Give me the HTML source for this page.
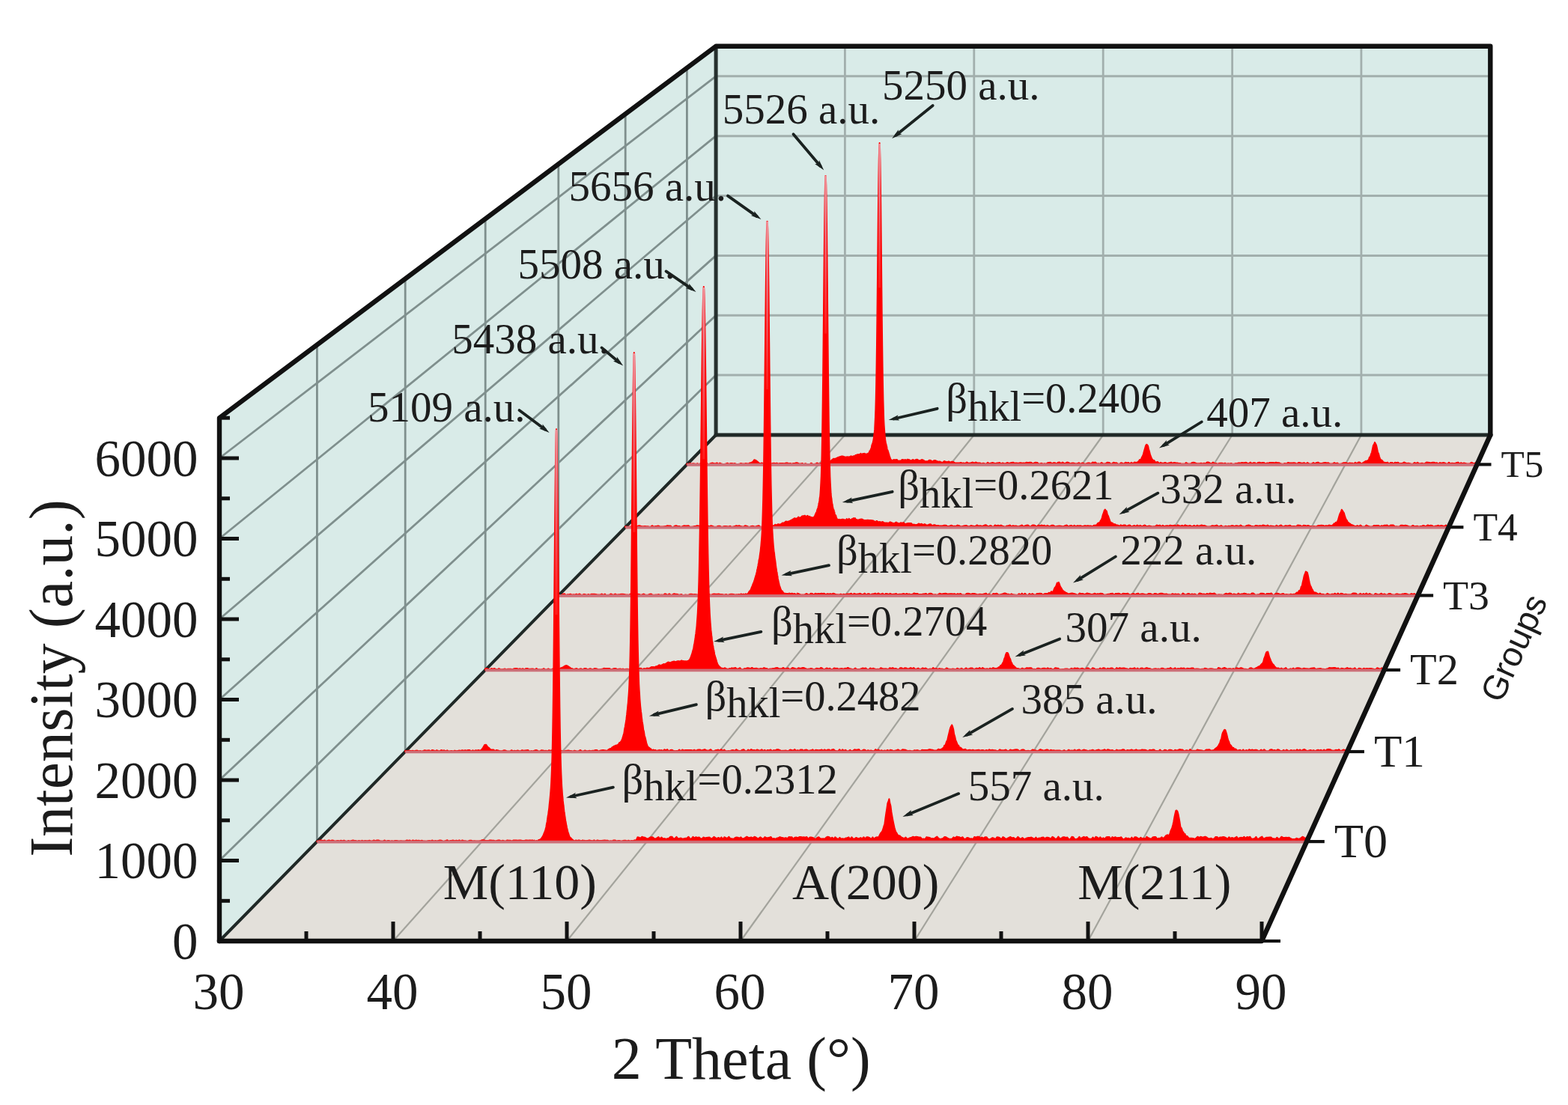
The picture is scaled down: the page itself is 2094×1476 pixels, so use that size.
<!DOCTYPE html>
<html><head><meta charset="utf-8"><title>XRD 3D</title>
<style>html,body{margin:0;padding:0;background:#fff;}svg{display:block;}</style>
</head><body>
<svg width="2094" height="1476" viewBox="0 0 2094 1476">
<rect width="2094" height="1476" fill="#fff"/>
<polygon points="293,558.2 956.1,61.8 956.1,581 293,1257" fill="#d9ebe8"/>
<polygon points="956.1,61.8 1990.3,61.8 1990.3,581 956.1,581" fill="#d9ebe8"/>
<polygon points="293,1257 956.1,581 1990.3,581 1685,1257" fill="#e3e0da"/>
<g stroke="#a2afad" stroke-width="2" fill="none">
<line x1="1128.4" y1="581" x2="1128.4" y2="61.8" stroke="#a2afad" stroke-width="2.8"/>
<line x1="525" y1="1257" x2="1128.4" y2="581" stroke="#a3a39c" stroke-width="2.2"/>
<line x1="1300.8" y1="581" x2="1300.8" y2="61.8" stroke="#a2afad" stroke-width="2.8"/>
<line x1="757" y1="1257" x2="1300.8" y2="581" stroke="#a3a39c" stroke-width="2.2"/>
<line x1="1473.2" y1="581" x2="1473.2" y2="61.8" stroke="#a2afad" stroke-width="2.8"/>
<line x1="989" y1="1257" x2="1473.2" y2="581" stroke="#a3a39c" stroke-width="2.2"/>
<line x1="1645.6" y1="581" x2="1645.6" y2="61.8" stroke="#a2afad" stroke-width="2.8"/>
<line x1="1221" y1="1257" x2="1645.6" y2="581" stroke="#a3a39c" stroke-width="2.2"/>
<line x1="1817.9" y1="581" x2="1817.9" y2="61.8" stroke="#a2afad" stroke-width="2.8"/>
<line x1="1453" y1="1257" x2="1817.9" y2="581" stroke="#a3a39c" stroke-width="2.2"/>
<line x1="956.1" y1="501.1" x2="1990.3" y2="501.1" stroke="#a2afad" stroke-width="3"/>
<line x1="293" y1="1149.5" x2="956.1" y2="501.1" stroke="#7f8f8d" stroke-width="2.8"/>
<line x1="956.1" y1="421.3" x2="1990.3" y2="421.3" stroke="#a2afad" stroke-width="3"/>
<line x1="293" y1="1042" x2="956.1" y2="421.3" stroke="#7f8f8d" stroke-width="2.8"/>
<line x1="956.1" y1="341.4" x2="1990.3" y2="341.4" stroke="#a2afad" stroke-width="3"/>
<line x1="293" y1="934.5" x2="956.1" y2="341.4" stroke="#7f8f8d" stroke-width="2.8"/>
<line x1="956.1" y1="261.5" x2="1990.3" y2="261.5" stroke="#a2afad" stroke-width="3"/>
<line x1="293" y1="827" x2="956.1" y2="261.5" stroke="#7f8f8d" stroke-width="2.8"/>
<line x1="956.1" y1="181.7" x2="1990.3" y2="181.7" stroke="#a2afad" stroke-width="3"/>
<line x1="293" y1="719.5" x2="956.1" y2="181.7" stroke="#7f8f8d" stroke-width="2.8"/>
<line x1="956.1" y1="101.8" x2="1990.3" y2="101.8" stroke="#a2afad" stroke-width="3"/>
<line x1="293" y1="612" x2="956.1" y2="101.8" stroke="#7f8f8d" stroke-width="2.8"/>
<line x1="423.4" y1="1124.1" x2="423.4" y2="460.7" stroke="#7f8f8d" stroke-width="2.8"/>
<line x1="541.2" y1="1004" x2="541.2" y2="372.5" stroke="#7f8f8d" stroke-width="2.8"/>
<line x1="648.2" y1="894.9" x2="648.2" y2="292.3" stroke="#7f8f8d" stroke-width="2.8"/>
<line x1="745.8" y1="795.4" x2="745.8" y2="219.3" stroke="#7f8f8d" stroke-width="2.8"/>
<line x1="835.2" y1="704.2" x2="835.2" y2="152.3" stroke="#7f8f8d" stroke-width="2.8"/>
<line x1="917.4" y1="620.4" x2="917.4" y2="90.8" stroke="#7f8f8d" stroke-width="2.8"/>
</g>
<g stroke-linecap="round" stroke-linejoin="round" fill="none">
<line x1="956.1" y1="61.8" x2="956.1" y2="581" stroke="#26302e" stroke-width="5"/>
<line x1="956.1" y1="581" x2="1990.3" y2="581" stroke="#1f2826" stroke-width="5"/>
<line x1="293" y1="1257" x2="956.1" y2="581" stroke="#1f2826" stroke-width="4"/>
</g>
<path d="M917.4,620.4 L917.4,619.5 919.4,619.9 921.4,619 923.4,620 925.4,619.2 927.4,619.5 929.4,620 931.4,619.2 933.4,620.1 935.4,619.3 937.4,620 939.4,620 941.4,619.4 943.4,618.6 945.4,619.9 947.4,619.7 949.4,619 951.4,618.4 953.4,619.1 955.4,619.4 957.4,618.4 959.4,620 961.4,618.6 963.4,619.6 965.4,619.9 967.4,619.9 969.4,619.6 971.4,618.7 973.4,619.8 975.4,619.1 977.4,619 979.4,619.5 981.4,619.1 983.4,620 985.4,620 987.4,619.8 989.4,618.9 991.4,619.4 993.4,619.6 995.4,619.1 997.4,619.3 999.4,619.6 1001.4,618.5 1003.4,617.9 1005.4,616.8 1007.4,614.2 1009.4,614.9 1011.4,616.6 1013.4,618.3 1015.4,619.5 1017.4,618.4 1019.4,619.9 1021.4,619.4 1023.4,618.8 1025.4,619.9 1027.4,619.2 1029.4,620.1 1031.4,618.9 1033.4,618.8 1035.4,619.1 1037.4,618.6 1039.4,619.6 1041.4,618.9 1043.4,619.1 1045.4,619.1 1047.4,619.3 1049.4,618.6 1051.4,618.4 1053.4,619.3 1055.4,618.9 1057.4,620 1059.4,618.9 1061.4,619 1063.4,618.3 1065.4,618.6 1067.4,619.6 1069.4,619.4 1071.4,618.9 1073.4,620.1 1075.4,619.3 1077.4,619.8 1079.4,619.9 1081.4,620 1083.4,618.7 1085.4,619.9 1087.4,619.7 1089.4,619.4 1091.4,618.5 1093.4,619.9 1095.4,619.1 1097.4,618.8 1099.4,618.1 1101.4,617.9 1103.4,617.4 1105.4,617.9 1107.4,616.9 1109.4,616 1111.4,614 1113.4,612.7 1115.4,612.9 1117.4,611.8 1119.4,610.9 1121.4,610.3 1123.4,609.6 1125.4,609.4 1127.4,610.1 1129.4,610.8 1131.4,610.2 1133.4,610.5 1135.4,610.1 1136.4,609.3 1137.4,609.7 1138.4,609.9 1139.4,609.5 1140.4,609.1 1141.4,610 1142.4,608.1 1143.4,608 1144.4,607.4 1145.4,607.1 1146.4,607.5 1147.4,607 1148.4,607.2 1149.4,605.9 1150.4,606.7 1151.4,606.5 1152.4,606.1 1153.4,606.1 1154.4,605.8 1155.4,606.4 1156.4,606.6 1157.4,606.4 1158.4,606.4 1159.4,605.6 1160.4,605.5 1161.4,602.5 1161.8,602.3 1162.2,602.3 1162.6,601.2 1163,600 1163.4,598.9 1163.8,598.2 1164.2,595.6 1164.6,594 1165,593.6 1165.4,592 1165.8,591.1 1166.2,589.3 1166.6,586.8 1167,584.5 1167.4,580.5 1167.8,578 1168.2,573.4 1168.6,565.3 1169,557.4 1169.4,546.6 1169.8,532.1 1170.2,512.9 1170.6,489 1171,460.2 1171.4,426.8 1171.8,389.6 1172.2,350 1172.6,310.1 1173,272.2 1173.4,239 1173.8,213.1 1174.2,196.6 1174.6,191 1175,196.8 1175.4,213.3 1175.8,239.3 1176.2,272.6 1176.6,310.7 1177,350.8 1177.4,390.5 1177.8,427.9 1178.2,461.5 1178.6,490.5 1179,514.6 1179.4,534 1179.8,547.4 1180.2,560.3 1180.6,568 1181,573.6 1181.4,578.9 1181.8,583.3 1182.2,587.4 1182.6,589.8 1183,592.5 1183.4,593.2 1183.8,595.6 1184.2,596.7 1184.6,599.4 1185,601.2 1185.4,601.3 1185.8,602.2 1186.2,603.9 1186.6,605.2 1187,606.3 1187.4,607.6 1187.8,609.8 1188.2,610.1 1188.6,611.3 1189,612.8 1190,614.3 1191,614.7 1192,615.2 1193,614.5 1194,614 1195,615.2 1196,614.1 1197,614 1198,614.1 1199,615.4 1200,615.7 1201,615.6 1202,615.6 1203,615.6 1204,614.6 1205,613.9 1206,614 1207,614.8 1208,614.4 1209,614 1210,615.7 1211,614.3 1212,613.7 1213,614 1214,614.1 1215,614.7 1217,615.4 1219,614 1221,615.1 1223,614.1 1225,613.8 1227,615.1 1229,615.2 1231,614 1233,614.7 1235,616 1237,616.3 1239,616.3 1241,614.7 1243,615.1 1245,616.7 1247,615.3 1249,615.1 1251,616 1253,616.8 1255,616.5 1257,617.6 1259,618 1261,615.9 1263,616.8 1265,617.2 1267,616.4 1269,617.6 1271,616.7 1273,616.9 1275,618.4 1277,618.4 1279,618.4 1281,618.6 1283,617.9 1285,618.7 1287,618.4 1289,619.1 1291,617.4 1293,618.7 1295,618.5 1297,618.2 1299,617.5 1301,618.7 1303,617.5 1305,618.5 1307,618.5 1309,618.5 1311,619.7 1313,618.7 1315,619.3 1317,619.8 1319,617.9 1321,619.4 1323,618.7 1325,618.1 1327,618.5 1329,619.1 1331,618.6 1333,618.5 1335,618 1337,619.6 1339,618.5 1341,619.2 1343,619.2 1345,618 1347,618.7 1349,618.5 1351,618.1 1353,617.7 1355,618.8 1357,618.4 1359,618.7 1361,618.6 1363,618.2 1365,618.8 1367,618.6 1369,618.7 1371,617.7 1373,618.2 1375,617.8 1377,617.7 1379,619.2 1381,618.5 1383,617.7 1385,617.9 1387,619.5 1389,619.5 1391,618.8 1393,619.7 1395,619.3 1397,619.7 1399,618.3 1401,618 1403,617.8 1405,619.5 1407,618.2 1409,618.3 1411,619.5 1413,617.8 1415,617.6 1417,619.3 1419,617.6 1421,618.9 1423,618.7 1425,617.6 1427,617.9 1429,619.5 1431,618.8 1433,618.6 1435,619 1437,619.4 1439,619.1 1441,618.2 1443,619.8 1445,618.6 1447,618.8 1449,619.8 1451,619.1 1453,618.4 1455,618.6 1457,619.7 1459,617.6 1461,618 1463,617.6 1465,619.6 1467,619.2 1469,619.7 1471,618 1473,619.2 1475,619.5 1477,618.9 1479,617.7 1481,617.9 1483,619.2 1485,619.5 1487,617.7 1489,618.5 1491,618.2 1493,619.6 1495,619.7 1497,618.2 1499,618.8 1501,619.7 1503,617.7 1505,618.4 1507,618 1509,619.6 1511,617.8 1513,619.5 1515,617.5 1517,618 1519,617.5 1521,615.7 1522,614 1523,614.4 1524,613.4 1525,610.7 1526,609.1 1527,606.3 1528,602.6 1529,599.1 1530,595.6 1531,593.8 1532,594.2 1533,595.5 1534,600 1535,603.3 1536,607.5 1537,609.8 1538,612.7 1539,613.7 1540,615.5 1541,614.8 1542,616 1543,617.5 1544,617.4 1546,617 1548,619.3 1550,617.8 1552,618.8 1554,618.7 1556,617.9 1558,618.9 1560,618.7 1562,618.2 1564,617.6 1566,619 1568,617.9 1570,618.2 1572,618.4 1574,618.9 1576,619 1578,619.7 1580,619.5 1582,619.7 1584,618.1 1586,619.2 1588,619.5 1590,619.6 1592,617.9 1594,617.8 1596,618.3 1598,619.2 1600,619.3 1602,619.2 1604,618.8 1606,619.5 1608,618.8 1610,619.2 1612,617.6 1614,617.6 1616,618.6 1618,619.3 1620,617.6 1622,619.1 1624,619 1626,619.8 1628,618.9 1630,618.7 1632,618.7 1634,619.4 1636,618.7 1638,619.8 1640,619.2 1642,619.6 1644,618.9 1646,619.7 1648,619.8 1650,619.1 1652,619.3 1654,618.5 1656,618.6 1658,618.1 1660,618.3 1662,618.2 1664,617.8 1666,618.9 1668,619.1 1670,617.6 1672,619.5 1674,618.2 1676,618.3 1678,619.7 1680,617.9 1682,617.8 1684,618.4 1686,618.1 1688,618 1690,619.5 1692,618.6 1694,618.7 1696,617.9 1698,618 1700,617.9 1702,618.5 1704,617.8 1706,618.3 1708,618.2 1710,619.3 1712,619.8 1714,619.5 1716,619 1718,619.6 1720,617.9 1722,618.5 1724,618.4 1726,618.4 1728,618.3 1730,618.7 1732,619.8 1734,618 1736,618.1 1738,618.7 1740,618.6 1742,618.3 1744,619.7 1746,618.1 1748,619.2 1750,619.7 1752,619.2 1754,618.1 1756,619.4 1758,618.1 1760,617.6 1762,618.7 1764,618.9 1766,618.7 1768,618.3 1770,618.1 1772,618.4 1774,618.3 1776,619.6 1778,619.5 1780,619.2 1782,618.1 1784,619.1 1786,618.5 1788,619.8 1790,619.7 1792,619.2 1794,618.3 1796,618.2 1798,618.3 1800,619.2 1802,618.6 1804,618.8 1806,618.8 1808,619.6 1810,617.8 1812,619.4 1814,617.6 1816,617.6 1818,619.6 1820,618.4 1822,617 1824,615.8 1826,615.5 1827,614.9 1828,613.9 1829,610.6 1830,610.3 1831,606.7 1832,604.3 1833,599.5 1834,594.6 1835,593.6 1836,590.9 1837,592.7 1838,594.8 1839,599.1 1840,604.1 1841,606 1842,609.7 1843,612.7 1844,614.3 1845,614.4 1846,615.5 1847,616.7 1848,617.7 1849,617.7 1851,618.5 1853,617.6 1855,619.7 1857,618.1 1859,617.9 1861,619.5 1863,617.7 1865,618.2 1867,617.8 1869,619.2 1871,619 1873,618.9 1875,617.5 1877,618.5 1879,619 1881,618.8 1883,619.2 1885,619.7 1887,619.6 1889,617.9 1891,619.2 1893,617.7 1895,619.3 1897,619.2 1899,618.7 1901,619.4 1903,619 1905,617.6 1907,617.8 1909,618 1911,618.4 1913,617.7 1915,617.7 1917,618.6 1919,618.2 1921,619.7 1923,618.1 1925,618.8 1927,618.1 1929,618.3 1931,619.2 1933,619.7 1935,617.7 1937,619.5 1939,618.7 1941,619 1943,619.1 1945,618.1 1947,617.6 1949,619.2 1951,618.3 1953,619.1 1955,618.5 1957,618.9 1959,619.4 1961,619.5 1963,619.3 1965,617.7 1967,618.7 1969,619.3 1971,617.7 1972.5,617.5 L1972.5,620.4 Z" fill="#ff0000" stroke="#ff0000" stroke-width="2" stroke-linejoin="round"/>
<linearGradient id="sg5" gradientUnits="userSpaceOnUse" x1="0" y1="191" x2="0" y2="384.3"><stop offset="0" stop-color="#efa0a8" stop-opacity="0.9"/><stop offset="0.35" stop-color="#ec6f7c"/><stop offset="1" stop-color="#ff1a1a"/></linearGradient>
<line x1="1174.6" y1="192" x2="1174.6" y2="384.3" stroke="url(#sg5)" stroke-width="2.8"/>
<line x1="917.4" y1="620.9" x2="1972.5" y2="620.9" stroke="#cc6f78" stroke-width="3.6"/>
<path d="M835.2,704.2 L835.2,703.1 837.2,703.7 839.2,703.6 841.2,703.8 843.2,703.3 845.2,703.8 847.2,703.5 849.2,703.5 851.2,702.9 853.2,702.3 855.2,702.6 857.2,703.2 859.2,703.2 861.2,703 863.2,703.2 865.2,703.3 867.2,703.8 869.2,703.4 871.2,702.2 873.2,703.7 875.2,703 877.2,702.8 879.2,702.4 881.2,703.5 883.2,703.4 885.2,703.5 887.2,703.2 889.2,703.1 891.2,702.2 893.2,702.4 895.2,702.4 897.2,703.9 899.2,703.9 901.2,702.6 903.2,702.3 905.2,703.1 907.2,702.9 909.2,703.9 911.2,703.2 913.2,702.3 915.2,702.4 917.2,702.4 919.2,702.2 921.2,703.5 923.2,703.7 925.2,703.6 927.2,703 929.2,702.7 931.2,702.2 933.2,702.6 935.2,702.8 937.2,702.5 939.2,703.1 941.2,702.9 943.2,703.9 945.2,702.5 947.2,703.5 949.2,702.3 951.2,702.8 953.2,703.4 955.2,703.7 957.2,703.5 959.2,702.8 961.2,702.7 963.2,703.7 965.2,703.8 967.2,703 969.2,702.9 971.2,703.2 973.2,703.5 975.2,702.8 977.2,703.9 979.2,703.4 981.2,703.1 983.2,702.2 985.2,702.8 987.2,702.3 989.2,703.1 991.2,703.5 993.2,703.5 995.2,702.2 997.2,702.7 999.2,703.4 1001.2,703.9 1003.2,703 1005.2,702.7 1007.2,703.2 1009.2,703.5 1011.2,702.7 1013.2,702.2 1015.2,703.5 1017.2,703.8 1019.2,703.2 1021.2,703 1023.2,702.5 1025.2,703.2 1027.2,702 1029.2,702 1031.2,702.2 1033.2,702.4 1035.2,700.7 1037.2,701.5 1039.2,700.1 1041.2,700.6 1043.2,700 1045.2,698.4 1047.2,698.5 1049.2,696.6 1051.2,696.7 1053.2,696.5 1055.2,695.7 1057.2,694.6 1059.2,693.5 1061.2,692.2 1063.2,693 1064.2,692.2 1065.2,692.2 1066.2,690.5 1067.2,691.7 1068.2,691.6 1069.2,691.3 1070.2,690.5 1071.2,689.4 1072.2,689.2 1073.2,689.4 1074.2,688.8 1075.2,688.8 1076.2,689.9 1077.2,690.2 1078.2,688.9 1079.2,689.4 1080.2,690.9 1081.2,689.9 1082.2,690.7 1083.2,690.9 1084.2,691.1 1085.2,691.5 1086.2,691.5 1087.2,690.4 1088.2,689.1 1089.2,686.3 1089.6,686.9 1090,684.5 1090.4,684.9 1090.8,683.5 1091.2,681.5 1091.6,680.2 1092,679.6 1092.4,678.8 1092.8,676.5 1093.2,675 1093.6,672.2 1094,671.4 1094.4,668.7 1094.8,664.9 1095.2,663.1 1095.6,658.1 1096,651.8 1096.4,644.6 1096.8,636.3 1097.2,623.8 1097.6,608 1098,587.6 1098.4,562.6 1098.8,532.6 1099.2,497.9 1099.6,459.3 1100,418 1100.4,375.8 1100.8,335 1101.2,298.2 1101.6,267.9 1102,246.3 1102.4,235.1 1102.8,235.2 1103.2,246.6 1103.6,268.5 1104,299 1104.4,336 1104.8,376.8 1105.2,419.1 1105.6,460.5 1106,499.1 1106.4,533.8 1106.8,563.8 1107.2,588.9 1107.6,608.5 1108,622.7 1108.4,636.8 1108.8,645.3 1109.2,652.3 1109.6,659.2 1110,663.8 1110.4,665.7 1110.8,669.4 1111.2,672.6 1111.6,673.7 1112,676.6 1112.4,678.4 1112.8,680.7 1113.2,680.5 1113.6,681.5 1114,683.5 1114.4,684 1114.8,687.3 1115.2,687.9 1115.6,688.3 1116,688.2 1116.4,689.1 1116.8,691.2 1117.8,693.2 1118.8,693.9 1119.8,694.5 1120.8,693.8 1121.8,695.6 1122.8,694.1 1123.8,694.2 1124.8,693.8 1125.8,693.8 1126.8,694 1127.8,694.5 1128.8,694.4 1129.8,694.2 1130.8,693.1 1131.8,694.6 1132.8,694.2 1133.8,692.9 1134.8,693.9 1135.8,694.3 1136.8,694.3 1137.8,693.1 1138.8,693.6 1139.8,692.1 1140.8,692.4 1141.8,692.1 1142.8,693.8 1144.8,694.4 1146.8,694.5 1148.8,693.8 1150.8,693.5 1152.8,694.4 1154.8,695.1 1156.8,695 1158.8,694.8 1160.8,695 1162.8,695.1 1164.8,695.2 1166.8,695.8 1168.8,697.4 1170.8,695.9 1172.8,697.4 1174.8,697 1176.8,697.6 1178.8,697 1180.8,698.4 1182.8,698.4 1184.8,698.6 1186.8,698.9 1188.8,697.3 1190.8,698.2 1192.8,698.9 1194.8,698.8 1196.8,697.5 1198.8,698.8 1200.8,699.5 1202.8,698.3 1204.8,698.8 1206.8,698.1 1208.8,700.3 1210.8,699.5 1212.8,698.9 1214.8,698.9 1216.8,698.9 1218.8,701 1220.8,700.6 1222.8,701.1 1224.8,701.1 1226.8,699.4 1228.8,700.4 1230.8,699.7 1232.8,701.1 1234.8,700.1 1236.8,701.1 1238.8,701.7 1240.8,700.6 1242.8,700.3 1244.8,702.3 1246.8,701.3 1248.8,701.3 1250.8,702.3 1252.8,702 1254.8,702.6 1256.8,702.5 1258.8,702.5 1260.8,701.7 1262.8,701.7 1264.8,702.7 1266.8,703.2 1268.8,702.5 1270.8,701.8 1272.8,702.9 1274.8,702.7 1276.8,702.9 1278.8,701.6 1280.8,702.2 1282.8,703.3 1284.8,703.3 1286.8,702.6 1288.8,702.3 1290.8,702.1 1292.8,703.3 1294.8,703.2 1296.8,702 1298.8,702.6 1300.8,702.9 1302.8,702.9 1304.8,701.4 1306.8,702.9 1308.8,702.3 1310.8,702.8 1312.8,702.7 1314.8,701.6 1316.8,701.3 1318.8,702.8 1320.8,703.2 1322.8,701.9 1324.8,703.2 1326.8,703.6 1328.8,701.5 1330.8,702.6 1332.8,701.7 1334.8,702.7 1336.8,701.6 1338.8,702.6 1340.8,703.3 1342.8,703.6 1344.8,702.4 1346.8,702.2 1348.8,701.5 1350.8,703.4 1352.8,702.2 1354.8,702.8 1356.8,702.5 1358.8,703.3 1360.8,703 1362.8,702.4 1364.8,701.5 1366.8,703.4 1368.8,702.5 1370.8,701.8 1372.8,701.4 1374.8,703.2 1376.8,703.3 1378.8,701.5 1380.8,701.4 1382.8,702.5 1384.8,703.5 1386.8,701.5 1388.8,702.7 1390.8,701.5 1392.8,702.2 1394.8,701.7 1396.8,703.3 1398.8,701.8 1400.8,703.1 1402.8,702.7 1404.8,701.7 1406.8,701.7 1408.8,703.2 1410.8,703.1 1412.8,702.7 1414.8,702.4 1416.8,702.7 1418.8,703.3 1420.8,703.1 1422.8,702 1424.8,701.6 1426.8,703.5 1428.8,702.3 1430.8,701.9 1432.8,703.5 1434.8,701.7 1436.8,703.4 1438.8,702.2 1440.8,702.4 1442.8,702.2 1444.8,702.9 1446.8,702.7 1448.8,702.3 1450.8,702.6 1452.8,702.1 1454.8,702.6 1456.8,702.5 1458.8,703.4 1460.8,701.7 1462.8,701.5 1464.8,701.2 1465.8,699.3 1466.8,698.5 1467.8,698.3 1468.8,697.8 1469.8,695.5 1470.8,694.3 1471.8,691.5 1472.8,687.7 1473.8,685.2 1474.8,681.9 1475.8,680.5 1476.8,682.1 1477.8,682.8 1478.8,687.2 1479.8,688.9 1480.8,691.8 1481.8,694.7 1482.8,697.5 1483.8,697.8 1484.8,699.1 1485.8,698.6 1486.8,701.2 1487.8,700.1 1488.8,700.2 1490.8,701.4 1492.8,701.5 1494.8,703.1 1496.8,701.3 1498.8,702.5 1500.8,701.4 1502.8,701.5 1504.8,703.2 1506.8,701.8 1508.8,701.5 1510.8,703.5 1512.8,702.8 1514.8,701.9 1516.8,703.3 1518.8,701.6 1520.8,703 1522.8,701.8 1524.8,703.3 1526.8,702.5 1528.8,701.5 1530.8,703.1 1532.8,703 1534.8,702.5 1536.8,702.9 1538.8,703.5 1540.8,703.2 1542.8,703.3 1544.8,701.5 1546.8,702.1 1548.8,701.6 1550.8,703.2 1552.8,701.8 1554.8,703.4 1556.8,702.4 1558.8,702.2 1560.8,702.8 1562.8,701.6 1564.8,702.3 1566.8,702.3 1568.8,701.6 1570.8,703.4 1572.8,701.3 1574.8,702.2 1576.8,702.7 1578.8,701.8 1580.8,703 1582.8,701.3 1584.8,702.3 1586.8,702.8 1588.8,701.9 1590.8,702.6 1592.8,703.2 1594.8,701.9 1596.8,703.5 1598.8,701.7 1600.8,703 1602.8,702.2 1604.8,701.4 1606.8,702.3 1608.8,702.1 1610.8,702.9 1612.8,703.6 1614.8,703.5 1616.8,703.3 1618.8,702.2 1620.8,702.6 1622.8,702.4 1624.8,701.6 1626.8,703.3 1628.8,703.1 1630.8,702.1 1632.8,703.6 1634.8,703.6 1636.8,702.8 1638.8,703.4 1640.8,702.8 1642.8,703.1 1644.8,702.3 1646.8,702.3 1648.8,703.2 1650.8,702.2 1652.8,702.5 1654.8,703.3 1656.8,701.5 1658.8,703.1 1660.8,703.3 1662.8,703.4 1664.8,702.2 1666.8,701.6 1668.8,701.8 1670.8,702.7 1672.8,703 1674.8,703.6 1676.8,702.1 1678.8,702.3 1680.8,702.8 1682.8,702.1 1684.8,702.6 1686.8,701.5 1688.8,701.9 1690.8,703.1 1692.8,701.5 1694.8,703.5 1696.8,702.4 1698.8,702.7 1700.8,703.1 1702.8,703.5 1704.8,701.8 1706.8,703.6 1708.8,702.4 1710.8,701.5 1712.8,703.3 1714.8,703.2 1716.8,702.2 1718.8,702.5 1720.8,702.2 1722.8,701.8 1724.8,703.2 1726.8,702.9 1728.8,702.9 1730.8,703.5 1732.8,701.6 1734.8,701.8 1736.8,702 1738.8,703.6 1740.8,701.7 1742.8,701.9 1744.8,702.6 1746.8,701.9 1748.8,702.6 1750.8,703.1 1752.8,703.4 1754.8,703.1 1756.8,703.5 1758.8,702.9 1760.8,701.9 1762.8,702 1764.8,701.7 1766.8,702 1768.8,703 1770.8,702.3 1772.8,702.6 1774.8,701.6 1776.8,702 1778.8,702.2 1780.8,700.5 1781.8,699.2 1782.8,700.2 1783.8,697.8 1784.8,698.8 1785.8,696.8 1786.8,695.1 1787.8,691.5 1788.8,688.1 1789.8,685.4 1790.8,683.7 1791.8,680.8 1792.8,682.1 1793.8,683.9 1794.8,685.1 1795.8,688.9 1796.8,691.6 1797.8,694.1 1798.8,695.2 1799.8,697.7 1800.8,697.9 1801.8,699.1 1802.8,699.4 1803.8,701 1804.8,700.8 1806.8,701.7 1808.8,702.7 1810.8,703 1812.8,702.2 1814.8,703.4 1816.8,701.5 1818.8,703.3 1820.8,703.6 1822.8,703.4 1824.8,701.5 1826.8,702.8 1828.8,703.3 1830.8,703.6 1832.8,703.5 1834.8,702 1836.8,702.2 1838.8,702 1840.8,701.9 1842.8,703.5 1844.8,702.3 1846.8,702.8 1848.8,701.7 1850.8,701.7 1852.8,701.6 1854.8,703.5 1856.8,701.6 1858.8,701.5 1860.8,701.5 1862.8,703.4 1864.8,703.2 1866.8,703.4 1868.8,703.5 1870.8,701.7 1872.8,701.8 1874.8,702.2 1876.8,701.7 1878.8,702.2 1880.8,703 1882.8,703.4 1884.8,703.4 1886.8,701.9 1888.8,703.2 1890.8,702.9 1892.8,702.7 1894.8,703.6 1896.8,703 1898.8,703 1900.8,702 1902.8,702.8 1904.8,702.9 1906.8,701.4 1908.8,702.5 1910.8,701.7 1912.8,702.2 1914.8,703.6 1916.8,702.7 1918.8,702.6 1920.8,701.8 1922.8,702.8 1924.8,702 1926.8,702.4 1928.8,703.1 1930.8,701.6 1932.8,703.4 1934.7,701.7 L1934.7,704.2 Z" fill="#ff0000" stroke="#ff0000" stroke-width="2" stroke-linejoin="round"/>
<linearGradient id="sg4" gradientUnits="userSpaceOnUse" x1="0" y1="233.7" x2="0" y2="445.5"><stop offset="0" stop-color="#efa0a8" stop-opacity="0.9"/><stop offset="0.35" stop-color="#ec6f7c"/><stop offset="1" stop-color="#ff1a1a"/></linearGradient>
<line x1="1102.6" y1="234.7" x2="1102.6" y2="445.5" stroke="url(#sg4)" stroke-width="2.8"/>
<line x1="835.2" y1="704.7" x2="1934.7" y2="704.7" stroke="#cc6f78" stroke-width="3.6"/>
<path d="M745.8,795.4 L745.8,794.8 747.8,795.1 749.8,794.7 751.8,793.7 753.8,793.3 755.8,795.1 757.8,794.2 759.8,794.2 761.8,793.6 763.8,794.7 765.8,794.2 767.8,794.5 769.8,793.6 771.8,794.6 773.8,793.4 775.8,794.6 777.8,794.7 779.8,793.8 781.8,794.2 783.8,794.9 785.8,793.9 787.8,794.9 789.8,793.7 791.8,793.8 793.8,793.7 795.8,793.9 797.8,794.4 799.8,794.4 801.8,794.4 803.8,793.5 805.8,794.9 807.8,793.5 809.8,795 811.8,794.7 813.8,794.6 815.8,793.5 817.8,794.2 819.8,794.4 821.8,793.5 823.8,794.7 825.8,794.2 827.8,794.1 829.8,793.7 831.8,793.7 833.8,793.9 835.8,794.5 837.8,794.5 839.8,794.8 841.8,793.6 843.8,793.9 845.8,793.7 847.8,794.8 849.8,794.3 851.8,793.7 853.8,794 855.8,794.9 857.8,794.2 859.8,793.5 861.8,794.7 863.8,794.7 865.8,794.5 867.8,793.8 869.8,793.6 871.8,794.8 873.8,794.8 875.8,794.6 877.8,794.5 879.8,794.1 881.8,794.8 883.8,794.5 885.8,794.7 887.8,793.3 889.8,793.8 891.8,794.9 893.8,793.3 895.8,794.9 897.8,794.4 899.8,793.3 901.8,793.6 903.8,793.8 905.8,794.3 907.8,794.7 909.8,793.9 911.8,794.9 913.8,794.7 915.8,794.4 917.8,795 919.8,794.4 921.8,793.7 923.8,793.8 925.8,794.2 927.8,793.9 929.8,794.2 931.8,794.8 933.8,794 935.8,794.3 937.8,793.7 939.8,793.4 941.8,794.3 943.8,794 945.8,793.7 947.8,794.3 949.8,794.7 951.8,793.8 953.8,793.5 955.8,793.7 957.8,793.8 959.8,793.5 961.8,793.9 963.8,793.9 965.8,794.3 967.8,794.5 969.8,793.9 971.8,794.9 973.8,794.3 975.8,793.7 977.8,793.8 979.8,793.9 981.8,794.6 983.8,794.3 985.8,794.3 986.8,794 987.8,794.3 988.8,793.9 989.8,793.4 990.8,794.7 991.8,793.9 992.8,793.6 993.8,794.3 994.8,794.1 995.8,793.2 996.8,794.7 997.8,793.5 998.8,793.5 999.8,791.5 1000.8,789.8 1001.8,788.9 1002.8,787.6 1003.8,784.6 1004.8,782.3 1005.8,779.6 1006.8,777.3 1007.8,774.2 1008.8,770.7 1009.8,767.6 1010.8,763.7 1011.2,760.9 1011.6,760.3 1012,757.5 1012.4,755.9 1012.8,753.1 1013.2,752 1013.6,748.1 1014,746.8 1014.4,744.7 1014.8,741.7 1015.2,738.6 1015.6,736.3 1016,732.2 1016.4,728.5 1016.8,723.6 1017.2,719.1 1017.6,712.9 1018,705.1 1018.4,694.2 1018.8,681.5 1019.2,666.7 1019.6,648.3 1020,626.1 1020.4,599.1 1020.8,568.1 1021.2,533.6 1021.6,496.4 1022,457.8 1022.4,419.4 1022.8,383 1023.2,350.7 1023.6,324.3 1024,305.7 1024.4,296 1024.8,295.8 1025.2,305.3 1025.6,323.7 1026,349.8 1026.4,381.9 1026.8,418.2 1027.2,456.7 1027.6,495.3 1028,532.6 1028.4,567.2 1028.8,598.4 1029.2,625.5 1029.6,648.6 1030,665.3 1030.4,681.9 1030.8,695 1031.2,705.2 1031.6,711.8 1032,718.3 1032.4,724.1 1032.8,729.1 1033.2,732.9 1033.6,737.3 1034,738.9 1034.4,743.5 1034.8,745.9 1035.2,748.5 1035.6,751.4 1036,755 1036.4,758.1 1036.8,760.2 1037.2,763.8 1037.6,764.7 1038,768.2 1038.4,769.4 1038.8,772.9 1039.8,777.5 1040.8,781.8 1041.8,784.6 1042.8,787.5 1043.8,789.8 1044.8,789.5 1045.8,791.5 1046.8,792.3 1047.8,792.8 1048.8,792.8 1049.8,793.2 1050.8,792.9 1051.8,793 1052.8,793.8 1053.8,792.5 1054.8,792.7 1055.8,794.6 1056.8,792.8 1057.8,792.7 1058.8,793 1059.8,794.4 1060.8,792.9 1061.8,793.3 1062.8,794.7 1063.8,794.8 1064.8,792.6 1066.8,793.3 1068.8,794.2 1070.8,794.5 1072.8,794.5 1074.8,794.2 1076.8,793 1078.8,794 1080.8,794.4 1082.8,792.7 1084.8,793 1086.8,794.4 1088.8,792.7 1090.8,793.4 1092.8,793 1094.8,793.2 1096.8,792.7 1098.8,793 1100.8,792.8 1102.8,794.3 1104.8,793.2 1106.8,793.6 1108.8,793.1 1110.8,793.8 1112.8,792.7 1114.8,793.5 1116.8,794.2 1118.8,794.2 1120.8,794.5 1122.8,793.6 1124.8,794.6 1126.8,793.7 1128.8,794.4 1130.8,793.6 1132.8,793.6 1134.8,793.5 1136.8,792.8 1138.8,794.8 1140.8,792.8 1142.8,793.7 1144.8,793.5 1146.8,793.2 1148.8,792.8 1150.8,793.9 1152.8,793.8 1154.8,792.6 1156.8,794.6 1158.8,793.3 1160.8,793.3 1162.8,794.7 1164.8,793.4 1166.8,793.2 1168.8,792.6 1170.8,794 1172.8,792.5 1174.8,793.6 1176.8,793.7 1178.8,792.7 1180.8,794.7 1182.8,793.1 1184.8,793.3 1186.8,794 1188.8,792.8 1190.8,793.9 1192.8,793.7 1194.8,793.6 1196.8,793 1198.8,794.3 1200.8,793.8 1202.8,793.8 1204.8,793.5 1206.8,792.9 1208.8,794.1 1210.8,792.9 1212.8,793.8 1214.8,793.6 1216.8,794.2 1218.8,793.6 1220.8,792.5 1222.8,793.3 1224.8,793 1226.8,794 1228.8,794 1230.8,794.1 1232.8,793.4 1234.8,793.3 1236.8,793 1238.8,794.7 1240.8,793.1 1242.8,792.7 1244.8,793.5 1246.8,794.7 1248.8,794.1 1250.8,794.8 1252.8,794.3 1254.8,792.7 1256.8,793.4 1258.8,793.3 1260.8,793 1262.8,792.7 1264.8,793.4 1266.8,793.4 1268.8,793.3 1270.8,793.2 1272.8,793.4 1274.8,793.2 1276.8,794.3 1278.8,793.2 1280.8,793.7 1282.8,793 1284.8,794.5 1286.8,794.4 1288.8,794.7 1290.8,793 1292.8,792.7 1294.8,793.3 1296.8,793.9 1298.8,792.9 1300.8,793 1302.8,793.5 1304.8,794.2 1306.8,794.1 1308.8,793.8 1310.8,794 1312.8,793.8 1314.8,793.3 1316.8,792.6 1318.8,794.7 1320.8,793.5 1322.8,794.7 1324.8,794.5 1326.8,792.9 1328.8,793.5 1330.8,792.7 1332.8,793.8 1334.8,794.7 1336.8,793.9 1338.8,793.4 1340.8,792.6 1342.8,792.5 1344.8,793.7 1346.8,793.8 1348.8,794.5 1350.8,793.3 1352.8,794.3 1354.8,794.4 1356.8,794.7 1358.8,794.8 1360.8,793.2 1362.8,794.5 1364.8,792.6 1366.8,794.6 1368.8,792.8 1370.8,794.5 1372.8,794.7 1374.8,793.1 1376.8,794.2 1378.8,793.1 1380.8,794.3 1382.8,794.7 1384.8,793 1386.8,793.1 1388.8,792.8 1390.8,793.1 1392.8,794.6 1394.8,793.2 1396.8,792.9 1398.8,793.2 1400.8,791.7 1402.8,792.4 1403.8,790.3 1404.8,790.2 1405.8,790.9 1406.8,789.8 1407.8,786.9 1408.8,784.7 1409.8,784.1 1410.8,781.4 1411.8,778.6 1412.8,779 1413.8,777.8 1414.8,780.1 1415.8,783.2 1416.8,784.8 1417.8,786.4 1418.8,788.3 1419.8,789 1420.8,791.2 1421.8,790.4 1422.8,792 1423.8,791.8 1424.8,792.2 1425.8,793 1427.8,793.5 1429.8,792.8 1431.8,792.5 1433.8,793 1435.8,793.5 1437.8,794.1 1439.8,794.6 1441.8,792.5 1443.8,793.2 1445.8,792.9 1447.8,794 1449.8,793.4 1451.8,792.5 1453.8,792.9 1455.8,793.4 1457.8,794.1 1459.8,793.8 1461.8,792.7 1463.8,793.9 1465.8,793.2 1467.8,793.4 1469.8,792.7 1471.8,792.9 1473.8,794.1 1475.8,794.8 1477.8,794.2 1479.8,793.8 1481.8,793.4 1483.8,792.9 1485.8,792.7 1487.8,794.7 1489.8,792.9 1491.8,792.9 1493.8,792.8 1495.8,793.5 1497.8,794.1 1499.8,792.8 1501.8,792.9 1503.8,793.2 1505.8,792.7 1507.8,794 1509.8,794.6 1511.8,793.5 1513.8,792.9 1515.8,794.3 1517.8,793.1 1519.8,792.6 1521.8,794.2 1523.8,793.4 1525.8,793.2 1527.8,793.7 1529.8,794.3 1531.8,794.2 1533.8,793.1 1535.8,793 1537.8,793.7 1539.8,794.6 1541.8,792.9 1543.8,793 1545.8,794.2 1547.8,793.4 1549.8,792.7 1551.8,792.7 1553.8,793.6 1555.8,793.7 1557.8,793.4 1559.8,794.3 1561.8,794.3 1563.8,794.4 1565.8,793.2 1567.8,793.9 1569.8,793.5 1571.8,793.9 1573.8,793.6 1575.8,794.4 1577.8,794.7 1579.8,792.5 1581.8,793.9 1583.8,794.5 1585.8,793.3 1587.8,793 1589.8,794.4 1591.8,793.4 1593.8,794 1595.8,793.6 1597.8,794.7 1599.8,794.7 1601.8,792.5 1603.8,792.8 1605.8,793.7 1607.8,793.5 1609.8,794.2 1611.8,793 1613.8,793.8 1615.8,792.6 1617.8,793 1619.8,792.9 1621.8,792.6 1623.8,794.2 1625.8,794.7 1627.8,794.3 1629.8,794.4 1631.8,794.6 1633.8,794.7 1635.8,793.5 1637.8,792.8 1639.8,793.7 1641.8,792.6 1643.8,792.7 1645.8,794.6 1647.8,793.4 1649.8,793.9 1651.8,794.5 1653.8,792.6 1655.8,794.2 1657.8,793.5 1659.8,793.3 1661.8,792.6 1663.8,793.2 1665.8,793.9 1667.8,793.7 1669.8,794.4 1671.8,792.6 1673.8,792.5 1675.8,794.3 1677.8,794.7 1679.8,794.2 1681.8,794 1683.8,792.7 1685.8,792.7 1687.8,792.9 1689.8,794.7 1691.8,793 1693.8,793.1 1695.8,793.3 1697.8,792.5 1699.8,794.7 1701.8,794.4 1703.8,793 1705.8,792.6 1707.8,793.2 1709.8,794.1 1711.8,793.4 1713.8,793 1715.8,794.5 1717.8,794 1719.8,794.2 1721.8,794.5 1723.8,793.6 1725.8,794.2 1727.8,793.8 1729.8,793.6 1731.8,791.5 1733.8,791.5 1734.8,788.9 1735.8,788.9 1736.8,787.7 1737.8,783.6 1738.8,782.6 1739.8,777.5 1740.8,773.4 1741.8,768.8 1742.8,766.5 1743.8,763.5 1744.8,764.3 1745.8,764.7 1746.8,768.8 1747.8,773.9 1748.8,778.5 1749.8,782.3 1750.8,783.8 1751.8,786.6 1752.8,787.8 1753.8,790.2 1754.8,791 1755.8,792.2 1756.8,791.4 1758.8,792.6 1760.8,794.1 1762.8,792.6 1764.8,794.1 1766.8,793.8 1768.8,794.4 1770.8,794.2 1772.8,792.8 1774.8,794 1776.8,794.4 1778.8,793.6 1780.8,794 1782.8,792.7 1784.8,794.5 1786.8,792.5 1788.8,794.6 1790.8,792.7 1792.8,793.2 1794.8,794.3 1796.8,793.7 1798.8,794.1 1800.8,794.2 1802.8,794.3 1804.8,793.9 1806.8,792.5 1808.8,792.5 1810.8,792.7 1812.8,794.6 1814.8,794.1 1816.8,792.7 1818.8,794.6 1820.8,793.1 1822.8,794.1 1824.8,792.5 1826.8,794.7 1828.8,792.9 1830.8,794 1832.8,794.5 1834.8,794.8 1836.8,792.9 1838.8,793.6 1840.8,794.4 1842.8,793.8 1844.8,792.7 1846.8,794.3 1848.8,793.5 1850.8,794.5 1852.8,794.4 1854.8,793 1856.8,793.1 1858.8,794.3 1860.8,794.6 1862.8,794.6 1864.8,793.4 1866.8,793.6 1868.8,794.1 1870.8,794.3 1872.8,793.4 1874.8,793.2 1876.8,792.9 1878.8,793.4 1880.8,794.3 1882.8,794.6 1884.8,793.1 1886.8,793.8 1888.8,793.1 1890.8,794.7 1892.8,792.9 1893.5,794 L1893.5,795.4 Z" fill="#ff0000" stroke="#ff0000" stroke-width="2" stroke-linejoin="round"/>
<linearGradient id="sg3" gradientUnits="userSpaceOnUse" x1="0" y1="294.7" x2="0" y2="520"><stop offset="0" stop-color="#efa0a8" stop-opacity="0.9"/><stop offset="0.35" stop-color="#ec6f7c"/><stop offset="1" stop-color="#ff1a1a"/></linearGradient>
<line x1="1024.6" y1="295.7" x2="1024.6" y2="520" stroke="url(#sg3)" stroke-width="2.8"/>
<line x1="745.8" y1="795.9" x2="1893.5" y2="795.9" stroke="#cc6f78" stroke-width="3.6"/>
<path d="M648.2,894.9 L648.2,893.1 650.2,893 652.2,893.7 654.2,894.6 656.2,893 658.2,893.7 660.2,893 662.2,894.1 664.2,894.3 666.2,893.1 668.2,893.9 670.2,894.3 672.2,893.9 674.2,893.5 676.2,894.6 678.2,893.7 680.2,893.8 682.2,893.7 684.2,894.4 686.2,893.3 688.2,893.1 690.2,893 692.2,894 694.2,893.3 696.2,893.9 698.2,893.2 700.2,894.5 702.2,893 704.2,892.9 706.2,893.7 708.2,893.7 710.2,893.6 712.2,893.6 714.2,894.6 716.2,892.9 718.2,894.2 720.2,894.3 722.2,894.4 724.2,894.1 726.2,893.1 728.2,894.5 730.2,894.4 732.2,893.3 734.2,894.2 736.2,894.6 738.2,893.5 740.2,893.6 742.2,893.7 744.2,893.3 746.2,894.4 748.2,892.8 750.2,892 752.2,891.2 754.2,889.6 756.2,889 758.2,889.8 760.2,891.1 762.2,892.6 764.2,893.2 766.2,894.2 768.2,893.5 770.2,893 772.2,894.3 774.2,893.6 776.2,893.3 778.2,894.3 780.2,893.1 782.2,892.9 784.2,893.9 786.2,893.8 788.2,893.1 790.2,893.7 792.2,893.9 794.2,892.9 796.2,893.2 798.2,894 800.2,894.2 802.2,894 804.2,893.8 806.2,892.8 808.2,893.1 810.2,893 812.2,893.1 814.2,893.1 816.2,894.5 818.2,893.7 820.2,892.9 822.2,892.9 824.2,894.1 826.2,893.8 828.2,893.5 830.2,893.9 832.2,893.6 834.2,894.5 836.2,893.8 838.2,893.7 840.2,894.5 842.2,894.3 844.2,892.8 846.2,893.2 848.2,892.9 850.2,893.4 852.2,893 854.2,892.8 856.2,892.7 858.2,894.2 860.2,892.9 862.2,893.4 864.2,892.4 866.2,892.9 868.2,892.1 870.2,891 872.2,891.1 874.2,891.3 876.2,890.2 878.2,889.8 880.2,888.3 882.2,888.9 884.2,888.2 886.2,887 888.2,887.3 890.2,885.9 892.2,884.6 894.2,884.9 896.2,884.8 898.2,884 900.2,883.5 901.2,884 902.2,883.9 903.2,883.8 904.2,883.4 905.2,883.1 906.2,883.3 907.2,883.3 908.2,883.6 909.2,882.8 910.2,882.3 911.2,882.9 912.2,883 913.2,883 914.2,883.9 915.2,883.1 916.2,883.6 917.2,883.3 918.2,882.9 919.2,882.6 920.2,882 921.2,880.8 922.2,879 923.2,876.1 924.2,873.4 925.2,869.5 926.2,866.3 926.6,863.7 927,860.8 927.4,859.8 927.8,856.9 928.2,854.5 928.6,852.3 929,848.2 929.4,846.4 929.8,842.2 930.2,839.6 930.6,835.6 931,829.3 931.4,824.5 931.8,818.6 932.2,810.1 932.6,800.6 933,788.7 933.4,776.3 933.8,759.9 934.2,739.7 934.6,718.1 935,694.6 935.4,666.6 935.8,635.9 936.2,603 936.6,568.7 937,534.1 937.4,500.2 937.8,468.4 938.2,440 938.6,416.2 939,398.2 939.4,387 939.8,382.9 940.2,386.3 940.6,397 941,414.5 941.4,437.8 941.8,466 942.2,497.6 942.6,531.5 943,566.2 943.4,600.7 943.8,633.9 944.2,665.1 944.6,693.6 945,718.2 945.4,740.2 945.8,759.6 946.2,775.4 946.6,789.5 947,800.7 947.4,810.6 947.8,819.4 948.2,825.8 948.6,831.6 949,836.7 949.4,841.7 949.8,844.9 950.2,848.7 950.6,851.4 951,856.3 951.4,857.4 951.8,862 952.2,862.7 952.6,865.5 953,867.9 953.4,868.9 953.8,871.8 954.2,874 955.2,877.2 956.2,880.5 957.2,884.1 958.2,887 959.2,888.7 960.2,890.1 961.2,890.6 962.2,892.3 963.2,892.6 964.2,892.5 965.2,893.1 966.2,893.3 967.2,892.4 968.2,892.3 969.2,893.1 970.2,893.2 971.2,893.9 972.2,893.6 973.2,894 974.2,893 975.2,893 976.2,894.1 977.2,892.2 978.2,893.6 979.2,892.4 980.2,892.4 982.2,892.1 984.2,893.8 986.2,893.3 988.2,892.2 990.2,894.3 992.2,894.2 994.2,893 996.2,893.2 998.2,892.2 1000.2,892.5 1002.2,893.1 1004.2,892 1006.2,893.1 1008.2,893.1 1010.2,892.7 1012.2,893.4 1014.2,893.5 1016.2,892.9 1018.2,893.5 1020.2,892.1 1022.2,892.7 1024.2,893.1 1026.2,894.1 1028.2,893.4 1030.2,893.4 1032.2,893 1034.2,893 1036.2,892.3 1038.2,892.1 1040.2,893.2 1042.2,893.3 1044.2,892.9 1046.2,892 1048.2,893.5 1050.2,893.1 1052.2,892.4 1054.2,893.9 1056.2,893.6 1058.2,892 1060.2,892.4 1062.2,893.1 1064.2,894 1066.2,892.2 1068.2,892.7 1070.2,892.4 1072.2,892 1074.2,892.3 1076.2,893.3 1078.2,893.9 1080.2,893.6 1082.2,893.1 1084.2,893.1 1086.2,893.9 1088.2,893.9 1090.2,892.8 1092.2,892.9 1094.2,893.5 1096.2,892 1098.2,892.8 1100.2,894.2 1102.2,893.4 1104.2,892.5 1106.2,893.6 1108.2,892.7 1110.2,894.3 1112.2,893.6 1114.2,892.4 1116.2,892.9 1118.2,892.8 1120.2,893.8 1122.2,893.2 1124.2,893 1126.2,893.7 1128.2,892.8 1130.2,893.1 1132.2,892 1134.2,893 1136.2,893.4 1138.2,894 1140.2,893.9 1142.2,892.5 1144.2,894.1 1146.2,894.1 1148.2,893.9 1150.2,893.1 1152.2,892.4 1154.2,892.9 1156.2,892.4 1158.2,894.2 1160.2,894.3 1162.2,892.5 1164.2,893.6 1166.2,892.7 1168.2,893.5 1170.2,893.9 1172.2,893.7 1174.2,894.1 1176.2,892.2 1178.2,893 1180.2,893.5 1182.2,893.3 1184.2,893.4 1186.2,894.2 1188.2,892.2 1190.2,893 1192.2,892.1 1194.2,893.3 1196.2,892.9 1198.2,893.7 1200.2,894.2 1202.2,892.2 1204.2,892.3 1206.2,893.6 1208.2,892.2 1210.2,892.4 1212.2,893.6 1214.2,892.9 1216.2,892.1 1218.2,893.2 1220.2,892.1 1222.2,893.7 1224.2,893.4 1226.2,892.6 1228.2,893.8 1230.2,893.6 1232.2,892.3 1234.2,893.2 1236.2,892.5 1238.2,893.7 1240.2,893.9 1242.2,893.5 1244.2,893.9 1246.2,892.1 1248.2,893.6 1250.2,893 1252.2,894 1254.2,893.1 1256.2,893.4 1258.2,893.4 1260.2,894.1 1262.2,894 1264.2,892.4 1266.2,893.5 1268.2,893.7 1270.2,893.9 1272.2,893.6 1274.2,893.8 1276.2,894.2 1278.2,892.8 1280.2,893.5 1282.2,893.9 1284.2,892.7 1286.2,894.1 1288.2,893.7 1290.2,892.4 1292.2,894 1294.2,893.3 1296.2,892.4 1298.2,892.4 1300.2,893.9 1302.2,893.5 1304.2,892.6 1306.2,893.4 1308.2,892.1 1310.2,893.8 1312.2,892.1 1314.2,893.1 1316.2,893.8 1318.2,893.3 1320.2,894 1322.2,892.7 1324.2,893.7 1326.2,892.1 1328.2,892.7 1330.2,892.9 1332.2,892.6 1334.2,890.9 1335.2,891.1 1336.2,888.8 1337.2,889.5 1338.2,887.4 1339.2,885.6 1340.2,884 1341.2,880.1 1342.2,877.8 1343.2,874.1 1344.2,872 1345.2,871.9 1346.2,872.7 1347.2,875.8 1348.2,878.8 1349.2,880.4 1350.2,884.3 1351.2,885.6 1352.2,888.5 1353.2,888.7 1354.2,890.1 1355.2,890.6 1356.2,891.7 1357.2,892.7 1359.2,892.9 1361.2,893.5 1363.2,893.9 1365.2,892.6 1367.2,893.6 1369.2,893.4 1371.2,892.2 1373.2,892.5 1375.2,892.3 1377.2,892.3 1379.2,894 1381.2,893.7 1383.2,894.2 1385.2,892.7 1387.2,892.8 1389.2,893.5 1391.2,893.3 1393.2,892.8 1395.2,892.7 1397.2,893.7 1399.2,892.3 1401.2,893.5 1403.2,892.9 1405.2,893.9 1407.2,894 1409.2,892.2 1411.2,892.6 1413.2,892.7 1415.2,894.2 1417.2,894.2 1419.2,893.9 1421.2,893.8 1423.2,893.6 1425.2,893.4 1427.2,894.2 1429.2,893.6 1431.2,892.8 1433.2,893.9 1435.2,892.4 1437.2,893 1439.2,892.6 1441.2,893.7 1443.2,893.3 1445.2,892.7 1447.2,893.5 1449.2,894.3 1451.2,892.4 1453.2,892.5 1455.2,893.6 1457.2,894.2 1459.2,892.3 1461.2,892.9 1463.2,894.2 1465.2,893.7 1467.2,894 1469.2,892.5 1471.2,893.8 1473.2,892.2 1475.2,892.6 1477.2,894.1 1479.2,892.7 1481.2,893.4 1483.2,892.6 1485.2,892.4 1487.2,893.6 1489.2,894.1 1491.2,892.1 1493.2,893.3 1495.2,892.2 1497.2,892.7 1499.2,892.6 1501.2,892.4 1503.2,892.9 1505.2,893.3 1507.2,894.2 1509.2,892.7 1511.2,893.3 1513.2,893.1 1515.2,892.2 1517.2,894 1519.2,892.5 1521.2,894.2 1523.2,892.7 1525.2,892.4 1527.2,893.7 1529.2,893 1531.2,892.1 1533.2,892.8 1535.2,893 1537.2,893.7 1539.2,894.2 1541.2,893.5 1543.2,893.3 1545.2,893.8 1547.2,893.6 1549.2,894 1551.2,892.7 1553.2,892.8 1555.2,893.7 1557.2,893.7 1559.2,893.1 1561.2,893.3 1563.2,892.1 1565.2,893.5 1567.2,893.6 1569.2,892.3 1571.2,894 1573.2,893 1575.2,893.5 1577.2,892.4 1579.2,893 1581.2,892.5 1583.2,893.9 1585.2,892.8 1587.2,892.9 1589.2,893.2 1591.2,892.5 1593.2,892.4 1595.2,894 1597.2,893.6 1599.2,893.5 1601.2,893.8 1603.2,894.2 1605.2,893.7 1607.2,893.8 1609.2,892.7 1611.2,893.3 1613.2,894 1615.2,893.6 1617.2,893.2 1619.2,893.5 1621.2,893.9 1623.2,894.1 1625.2,894.3 1627.2,892 1629.2,892.6 1631.2,894.1 1633.2,892.6 1635.2,892 1637.2,893 1639.2,894 1641.2,893.2 1643.2,893.3 1645.2,893.9 1647.2,893 1649.2,894.3 1651.2,892.2 1653.2,892.8 1655.2,892.9 1657.2,892.1 1659.2,892.8 1661.2,893.7 1663.2,893.7 1665.2,894 1667.2,894.2 1669.2,892.5 1671.2,892.3 1673.2,893.5 1675.2,893.6 1677.2,892.3 1679.2,891.3 1681.2,890.1 1682.2,891.2 1683.2,888.9 1684.2,887.8 1685.2,886.7 1686.2,886 1687.2,884 1688.2,879.7 1689.2,877.5 1690.2,874.1 1691.2,871.3 1692.2,870.7 1693.2,870.6 1694.2,874.3 1695.2,878 1696.2,880.2 1697.2,882.9 1698.2,884.8 1699.2,886.7 1700.2,887.6 1701.2,888.5 1702.2,890.4 1703.2,891.1 1704.2,892.4 1705.2,892.5 1707.2,892.4 1709.2,893.9 1711.2,892.6 1713.2,893.9 1715.2,893.3 1717.2,892.1 1719.2,894.1 1721.2,894.2 1723.2,893.3 1725.2,893.9 1727.2,892.6 1729.2,894.3 1731.2,892.4 1733.2,892.3 1735.2,892.5 1737.2,893.3 1739.2,893.6 1741.2,892.8 1743.2,893.1 1745.2,893.3 1747.2,893.5 1749.2,893.3 1751.2,892.8 1753.2,892.4 1755.2,892.2 1757.2,893.9 1759.2,893.6 1761.2,893.3 1763.2,893 1765.2,893.5 1767.2,893.8 1769.2,894.1 1771.2,893.6 1773.2,893.2 1775.2,892.1 1777.2,892.2 1779.2,892.3 1781.2,892.1 1783.2,892.1 1785.2,892.9 1787.2,892.4 1789.2,894.2 1791.2,892.7 1793.2,892.9 1795.2,893.6 1797.2,893 1799.2,892.1 1801.2,893.2 1803.2,892.8 1805.2,893.6 1807.2,893.5 1809.2,892.3 1811.2,894.2 1813.2,893.9 1815.2,892.7 1817.2,893.3 1819.2,894.1 1821.2,892.8 1823.2,893.4 1825.2,893 1827.2,893.3 1829.2,893.1 1831.2,893 1833.2,893.4 1835.2,894 1837.2,893.9 1839.2,892.2 1841.2,893 1843.2,894 1845.2,892.3 1847.2,893.7 1848.5,894.1 L1848.5,894.9 Z" fill="#ff0000" stroke="#ff0000" stroke-width="2" stroke-linejoin="round"/>
<linearGradient id="sg2" gradientUnits="userSpaceOnUse" x1="0" y1="382.9" x2="0" y2="613.3"><stop offset="0" stop-color="#efa0a8" stop-opacity="0.9"/><stop offset="0.35" stop-color="#ec6f7c"/><stop offset="1" stop-color="#ff1a1a"/></linearGradient>
<line x1="939.8" y1="383.9" x2="939.8" y2="613.3" stroke="url(#sg2)" stroke-width="3.2"/>
<line x1="648.2" y1="895.4" x2="1848.5" y2="895.4" stroke="#cc6f78" stroke-width="3.6"/>
<path d="M541.2,1004 L541.2,1002.7 543.2,1003.2 545.2,1002.8 547.2,1002.7 549.2,1003.3 551.2,1002.7 553.2,1003.5 555.2,1002.8 557.2,1002.6 559.2,1003.5 561.2,1003 563.2,1003.6 565.2,1002.9 567.2,1002.1 569.2,1002.7 571.2,1002.4 573.2,1002.3 575.2,1003.5 577.2,1001.9 579.2,1002.4 581.2,1003.5 583.2,1002.2 585.2,1003 587.2,1003.4 589.2,1002 591.2,1002.7 593.2,1002.3 595.2,1003.4 597.2,1002.3 599.2,1003.6 601.2,1003.3 603.2,1003 605.2,1003.7 607.2,1002.6 609.2,1003.3 611.2,1003.1 613.2,1002.4 615.2,1002.9 617.2,1002.1 619.2,1002.6 621.2,1002.1 623.2,1002.7 625.2,1002 627.2,1002.1 629.2,1003.4 631.2,1002.3 633.2,1003.1 635.2,1002.3 637.2,1002.4 639.2,1002 641.2,1002.9 643.2,1001.4 645.2,998.5 647.2,995.1 649.2,994.7 651.2,997.9 653.2,999.2 655.2,1001.4 657.2,1001.5 659.2,1001.6 661.2,1003.2 663.2,1001.9 665.2,1002.4 667.2,1003.2 669.2,1003.3 671.2,1002.9 673.2,1002.2 675.2,1002.6 677.2,1003.5 679.2,1003.6 681.2,1003.5 683.2,1002.2 685.2,1003.4 687.2,1002.7 689.2,1003.2 691.2,1002.5 693.2,1003 695.2,1003.4 697.2,1002.1 699.2,1002.7 701.2,1002.4 703.2,1002.2 705.2,1002 707.2,1003.7 709.2,1003.1 711.2,1003.4 713.2,1002.8 715.2,1002.1 717.2,1002.2 719.2,1003.6 721.2,1003.4 723.2,1002.2 725.2,1002.5 727.2,1003 729.2,1002.8 731.2,1003.4 733.2,1002.2 735.2,1003 737.2,1002.1 739.2,1002.6 741.2,1003.6 743.2,1003.1 745.2,1003.3 747.2,1002.1 749.2,1002.6 751.2,1003.6 753.2,1003.4 755.2,1003 757.2,1002.8 759.2,1002.6 761.2,1003 763.2,1003.1 765.2,1003.7 767.2,1002.6 769.2,1003.1 771.2,1003.7 773.2,1002.9 775.2,1001.9 777.2,1003.6 779.2,1003.4 781.2,1002.5 783.2,1003.2 785.2,1003.2 787.2,1002.8 789.2,1003.2 791.2,1002.7 793.2,1002.7 795.2,1002 797.2,1001.9 799.2,1003.6 801.2,1002.7 803.2,1002.3 805.2,1002.1 807.2,1002.3 808.2,1002.5 809.2,1002.5 810.2,1002.8 811.2,1002.8 812.2,1001.5 813.2,1001 814.2,1000.3 815.2,1000.1 816.2,1000.1 817.2,998.5 818.2,997.8 819.2,997.5 820.2,996.6 821.2,996.6 822.2,995.7 823.2,995.5 824.2,995.6 825.2,994.6 826.2,994 827.2,992 828.2,991.9 829.2,990.7 830.2,989 831.2,986.6 832.2,983.2 833.2,979.7 833.6,978.1 834,974.5 834.4,973.1 834.8,970.9 835.2,968.2 835.6,966.1 836,963.6 836.4,960.9 836.8,957.4 837.2,954.2 837.6,950.1 838,946.8 838.4,942.2 838.8,939.1 839.2,933.3 839.6,928.5 840,922.9 840.4,914.8 840.8,904.2 841.2,891 841.6,876.3 842,857.6 842.4,833.3 842.8,804.1 843.2,770 843.6,731.3 844,689.2 844.4,645.1 844.8,601.1 845.2,559.9 845.6,523.9 846,495.8 846.4,477.7 846.8,471 847.2,476.2 847.6,492.9 848,519.9 848.4,554.9 848.8,595.7 849.2,639.4 849.6,683.6 850,726.2 850.4,765.3 850.8,800.1 851.2,829.9 851.6,854.8 852,872.7 852.4,889.8 852.8,901.7 853.2,913.7 853.6,921 854,926.7 854.4,933.8 854.8,938.7 855.2,943.5 855.6,947.2 856,950.7 856.4,953.2 856.8,957.6 857.2,960.4 857.6,963.9 858,965.9 858.4,968.1 858.8,971.2 859.2,974.8 859.6,975.9 860,977.6 860.4,980.5 860.8,983.6 861.2,983.8 862.2,987.7 863.2,992.2 864.2,995.4 865.2,997.5 866.2,998.4 867.2,998.9 868.2,1000.3 869.2,1000.3 870.2,1002.3 871.2,1002.3 872.2,1001.5 873.2,1001.8 874.2,1002.4 875.2,1001.8 876.2,1002.6 877.2,1003.2 878.2,1002.4 879.2,1003.3 880.2,1001.9 881.2,1002.6 882.2,1002.2 883.2,1002 884.2,1002.8 885.2,1002.3 886.2,1003.4 887.2,1001.3 889.2,1002.1 891.2,1001.1 893.2,1003.3 895.2,1002 897.2,1001.7 899.2,1002.6 901.2,1003.2 903.2,1003 905.2,1003.1 907.2,1001.6 909.2,1003.2 911.2,1001.5 913.2,1002.4 915.2,1002.1 917.2,1002 919.2,1002.1 921.2,1001.9 923.2,1002 925.2,1002.6 927.2,1001.7 929.2,1002.8 931.2,1001.8 933.2,1001.6 935.2,1001.6 937.2,1002.7 939.2,1001.6 941.2,1001.1 943.2,1002.3 945.2,1002.7 947.2,1002.2 949.2,1001.2 951.2,1003.1 953.2,1003.4 955.2,1002.3 957.2,1001.9 959.2,1001.6 961.2,1002.6 963.2,1001.1 965.2,1002.9 967.2,1001.6 969.2,1003.2 971.2,1003.3 973.2,1003.1 975.2,1003.2 977.2,1002.2 979.2,1002.1 981.2,1003 983.2,1001.2 985.2,1002.5 987.2,1003 989.2,1003 991.2,1001.7 993.2,1001.3 995.2,1003 997.2,1003.3 999.2,1001.6 1001.2,1002.8 1003.2,1001.1 1005.2,1002.2 1007.2,1001.9 1009.2,1002.6 1011.2,1001.5 1013.2,1002.3 1015.2,1002.6 1017.2,1001.3 1019.2,1003.1 1021.2,1001.7 1023.2,1003.2 1025.2,1001.9 1027.2,1002.5 1029.2,1001.4 1031.2,1003.2 1033.2,1002.1 1035.2,1002.4 1037.2,1001.3 1039.2,1001.2 1041.2,1001.9 1043.2,1002.9 1045.2,1002.8 1047.2,1002.8 1049.2,1002.4 1051.2,1002.9 1053.2,1002.9 1055.2,1001.6 1057.2,1001.9 1059.2,1002.7 1061.2,1001.1 1063.2,1002.9 1065.2,1002.1 1067.2,1003 1069.2,1001.4 1071.2,1001.4 1073.2,1002.8 1075.2,1001.7 1077.2,1001.5 1079.2,1002.7 1081.2,1002.6 1083.2,1002.3 1085.2,1001.3 1087.2,1003 1089.2,1001.8 1091.2,1002 1093.2,1002.3 1095.2,1002.1 1097.2,1001.4 1099.2,1002.9 1101.2,1001.4 1103.2,1002.6 1105.2,1001.6 1107.2,1001.4 1109.2,1003 1111.2,1001.4 1113.2,1001.1 1115.2,1002.7 1117.2,1003.3 1119.2,1003.1 1121.2,1001.1 1123.2,1003.4 1125.2,1001.3 1127.2,1003 1129.2,1001.7 1131.2,1003.2 1133.2,1003 1135.2,1001.8 1137.2,1003.2 1139.2,1002.6 1141.2,1001.3 1143.2,1001.7 1145.2,1001.4 1147.2,1001.1 1149.2,1003.3 1151.2,1002.8 1153.2,1001.6 1155.2,1001.8 1157.2,1003.3 1159.2,1002.2 1161.2,1002.9 1163.2,1002.4 1165.2,1003.1 1167.2,1003.3 1169.2,1001.1 1171.2,1002.7 1173.2,1001.4 1175.2,1003.1 1177.2,1002.3 1179.2,1003.1 1181.2,1002.4 1183.2,1003 1185.2,1001.8 1187.2,1003 1189.2,1001.7 1191.2,1002.2 1193.2,1003.1 1195.2,1002.6 1197.2,1002.2 1199.2,1001.3 1201.2,1002.6 1203.2,1002.9 1205.2,1001.2 1207.2,1001.4 1209.2,1001.7 1211.2,1002.8 1213.2,1003 1215.2,1002.8 1217.2,1003.2 1219.2,1003.3 1221.2,1002.2 1223.2,1002.4 1225.2,1002.1 1227.2,1002.6 1229.2,1003.4 1231.2,1001.8 1233.2,1001.9 1235.2,1002.1 1237.2,1002.1 1239.2,1001.8 1241.2,1001.1 1243.2,1001.4 1245.2,1001.7 1247.2,1002.4 1249.2,1002.6 1251.2,1002.2 1253.2,1000.7 1255.2,1001.6 1257.2,1000.7 1259.2,999.2 1260.2,998.8 1261.2,995.7 1262.2,996.5 1263.2,993.4 1264.2,990.3 1265.2,988.9 1266.2,984.3 1267.2,980.3 1268.2,976.1 1269.2,972.2 1270.2,970.1 1271.2,968.4 1272.2,970.7 1273.2,974.3 1274.2,980.9 1275.2,983.9 1276.2,988.6 1277.2,990.9 1278.2,993.4 1279.2,995.8 1280.2,995.7 1281.2,999.1 1282.2,998.4 1283.2,998.9 1285.2,1000.9 1287.2,1001.4 1289.2,1000.8 1291.2,1002.7 1293.2,1001.9 1295.2,1001.7 1297.2,1002.5 1299.2,1001.7 1301.2,1002.5 1303.2,1002.2 1305.2,1002 1307.2,1001.8 1309.2,1002.6 1311.2,1001.9 1313.2,1002.1 1315.2,1002.9 1317.2,1002 1319.2,1002.8 1321.2,1001.3 1323.2,1002.3 1325.2,1001.7 1327.2,1002.2 1329.2,1002.3 1331.2,1002.9 1333.2,1003.1 1335.2,1001.3 1337.2,1002.2 1339.2,1002.2 1341.2,1002.2 1343.2,1001.5 1345.2,1002.8 1347.2,1003 1349.2,1001.5 1351.2,1002.3 1353.2,1001.9 1355.2,1001.5 1357.2,1001.3 1359.2,1001.4 1361.2,1003.3 1363.2,1002.5 1365.2,1001.5 1367.2,1001.5 1369.2,1003.1 1371.2,1003 1373.2,1002.8 1375.2,1003.2 1377.2,1002.6 1379.2,1001.5 1381.2,1002.2 1383.2,1002.3 1385.2,1003.2 1387.2,1002.5 1389.2,1001.1 1391.2,1001.8 1393.2,1002.4 1395.2,1002.3 1397.2,1001.6 1399.2,1001.6 1401.2,1003 1403.2,1001.8 1405.2,1002.5 1407.2,1002.2 1409.2,1002.8 1411.2,1002.5 1413.2,1002.6 1415.2,1002.5 1417.2,1003.3 1419.2,1002.9 1421.2,1002.1 1423.2,1003.3 1425.2,1003 1427.2,1001.7 1429.2,1002.8 1431.2,1002.6 1433.2,1002.8 1435.2,1001.5 1437.2,1003.2 1439.2,1001.9 1441.2,1001.4 1443.2,1002.9 1445.2,1002.4 1447.2,1001.6 1449.2,1002 1451.2,1002.5 1453.2,1003.3 1455.2,1002.4 1457.2,1002.5 1459.2,1001.7 1461.2,1002.7 1463.2,1002.4 1465.2,1001.9 1467.2,1001.5 1469.2,1002.6 1471.2,1002.5 1473.2,1002.1 1475.2,1001.3 1477.2,1002.9 1479.2,1001.2 1481.2,1001.7 1483.2,1002.5 1485.2,1001.9 1487.2,1002.6 1489.2,1003.2 1491.2,1001.6 1493.2,1002.5 1495.2,1002.2 1497.2,1002.2 1499.2,1001.3 1501.2,1001.6 1503.2,1003.3 1505.2,1002 1507.2,1002.3 1509.2,1002.3 1511.2,1001.5 1513.2,1002.4 1515.2,1002.3 1517.2,1001.3 1519.2,1002.4 1521.2,1002.3 1523.2,1002.2 1525.2,1001.5 1527.2,1001.8 1529.2,1001.7 1531.2,1002.5 1533.2,1003.3 1535.2,1001.8 1537.2,1002.1 1539.2,1001.6 1541.2,1001.6 1543.2,1003.1 1545.2,1002.9 1547.2,1003.2 1549.2,1001.5 1551.2,1003.2 1553.2,1003.2 1555.2,1001.7 1557.2,1002.1 1559.2,1003.3 1561.2,1001.8 1563.2,1001.8 1565.2,1002.3 1567.2,1003.3 1569.2,1001.8 1571.2,1002.4 1573.2,1002 1575.2,1001.1 1577.2,1001.5 1579.2,1001.4 1581.2,1003.1 1583.2,1002.6 1585.2,1002.2 1587.2,1003.4 1589.2,1001.1 1591.2,1002.8 1593.2,1002.8 1595.2,1002.7 1597.2,1002.8 1599.2,1001.4 1601.2,1002.1 1603.2,1002.2 1605.2,1002.4 1607.2,1003.3 1609.2,1002.7 1611.2,1001.4 1613.2,1001.5 1615.2,1001.3 1617.2,1002.5 1619.2,1002.3 1621.2,1002 1623.2,999.8 1625.2,998.6 1626.2,997.3 1627.2,996 1628.2,994.1 1629.2,992.4 1630.2,988.6 1631.2,986.6 1632.2,981.1 1633.2,978.2 1634.2,976.5 1635.2,974.7 1636.2,974.9 1637.2,977.7 1638.2,980.9 1639.2,985.3 1640.2,989.1 1641.2,990.8 1642.2,994.3 1643.2,995.1 1644.2,996.2 1645.2,997.8 1646.2,999.1 1647.2,998.7 1648.2,1000.5 1650.2,1000.4 1652.2,1002.8 1654.2,1002.2 1656.2,1001.8 1658.2,1003.2 1660.2,1001.4 1662.2,1003.2 1664.2,1002 1666.2,1003 1668.2,1001.3 1670.2,1002.1 1672.2,1001.5 1674.2,1002.2 1676.2,1001.8 1678.2,1001.8 1680.2,1002.7 1682.2,1002.9 1684.2,1001.5 1686.2,1003.1 1688.2,1001.3 1690.2,1002.9 1692.2,1003.2 1694.2,1003.2 1696.2,1001.6 1698.2,1001.2 1700.2,1002.4 1702.2,1001.9 1704.2,1002.8 1706.2,1001.3 1708.2,1001.8 1710.2,1003 1712.2,1003.3 1714.2,1001.8 1716.2,1003.3 1718.2,1001.5 1720.2,1002.7 1722.2,1002.9 1724.2,1002 1726.2,1002.7 1728.2,1002.1 1730.2,1003 1732.2,1001.3 1734.2,1002.6 1736.2,1001.5 1738.2,1003 1740.2,1001.5 1742.2,1001.1 1744.2,1002.5 1746.2,1003.3 1748.2,1002.5 1750.2,1001.9 1752.2,1002.9 1754.2,1002.1 1756.2,1003.2 1758.2,1002.3 1760.2,1001.7 1762.2,1002.4 1764.2,1001.8 1766.2,1003.1 1768.2,1001.5 1770.2,1003.1 1772.2,1001.3 1774.2,1001.1 1776.2,1001.2 1778.2,1002.2 1780.2,1002.7 1782.2,1002.6 1784.2,1001.7 1786.2,1002.2 1788.2,1001.2 1790.2,1003.2 1792.2,1002.3 1794.2,1001.4 1796.2,1002 1798.2,1002.1 1799.3,1003.2 L1799.3,1004 Z" fill="#ff0000" stroke="#ff0000" stroke-width="2" stroke-linejoin="round"/>
<linearGradient id="sg1" gradientUnits="userSpaceOnUse" x1="0" y1="471" x2="0" y2="710.8"><stop offset="0" stop-color="#efa0a8" stop-opacity="0.9"/><stop offset="0.35" stop-color="#ec6f7c"/><stop offset="1" stop-color="#ff1a1a"/></linearGradient>
<line x1="846.8" y1="472" x2="846.8" y2="710.8" stroke="url(#sg1)" stroke-width="3.2"/>
<line x1="541.2" y1="1004.5" x2="1799.3" y2="1004.5" stroke="#cc6f78" stroke-width="3.6"/>
<path d="M423.4,1124.1 L423.4,1123.6 425.4,1123.4 427.4,1122.5 429.4,1122.5 431.4,1123.5 433.4,1122.4 435.4,1123.8 437.4,1122.9 439.4,1122.4 441.4,1123.3 443.4,1122.4 445.4,1122.8 447.4,1123.7 449.4,1123.3 451.4,1123.1 453.4,1123.4 455.4,1122.7 457.4,1123.5 459.4,1122.6 461.4,1123.4 463.4,1123.7 465.4,1123 467.4,1123.7 469.4,1123 471.4,1122.6 473.4,1122.9 475.4,1123.1 477.4,1123.8 479.4,1123 481.4,1123.7 483.4,1122.8 485.4,1123.6 487.4,1122.9 489.4,1123.3 491.4,1123.2 493.4,1122.8 495.4,1123.6 497.4,1123.5 499.4,1122.4 501.4,1123.3 503.4,1122.5 505.4,1122.5 507.4,1123.1 509.4,1123.6 511.4,1123.7 513.4,1122.5 515.4,1123.6 517.4,1123.1 519.4,1123 521.4,1123.6 523.4,1123.1 525.4,1123.6 527.4,1123 529.4,1123 531.4,1123.3 533.4,1123.5 535.4,1123.2 537.4,1123.5 539.4,1123.6 541.4,1123.4 543.4,1122.5 545.4,1123 547.4,1122.5 549.4,1123.8 551.4,1122.4 553.4,1123.1 555.4,1122.6 557.4,1122.9 559.4,1122.8 561.4,1123.5 563.4,1122.7 565.4,1123.6 567.4,1123.4 569.4,1123.8 571.4,1123.2 573.4,1123 575.4,1123.4 577.4,1122.5 579.4,1123.7 581.4,1122.9 583.4,1123.5 585.4,1122.9 587.4,1122.6 589.4,1122.7 591.4,1123.7 593.4,1123.4 595.4,1122.9 597.4,1122.3 599.4,1123.7 601.4,1122.9 603.4,1122.8 605.4,1122.6 607.4,1123.3 609.4,1122.6 611.4,1123.1 613.4,1122.4 615.4,1123.8 617.4,1122.4 619.4,1123.2 621.4,1123.2 623.4,1123.7 625.4,1123.4 627.4,1122.7 629.4,1122.8 631.4,1123.6 633.4,1123.3 635.4,1123.6 637.4,1123.5 639.4,1123.5 641.4,1123.3 643.4,1122.3 645.4,1122.3 647.4,1122.6 649.4,1123.1 651.4,1123.1 653.4,1122.6 655.4,1122.4 657.4,1122.7 659.4,1122.8 661.4,1123.5 663.4,1122.9 665.4,1122.5 667.4,1122.6 669.4,1123.7 671.4,1122.7 673.4,1123.3 675.4,1123.6 677.4,1122.4 679.4,1122.8 681.4,1122.7 683.4,1123.6 685.4,1122.6 687.4,1122.4 689.4,1122.4 691.4,1122.7 693.4,1122.6 695.4,1122.6 697.4,1122.9 699.4,1123.1 701.4,1122.6 703.4,1122.6 704.4,1122.5 705.4,1123.4 706.4,1122.4 707.4,1123 708.4,1122.4 709.4,1123.6 710.4,1122.3 711.4,1122.6 712.4,1123.4 713.4,1122.5 714.4,1123.4 715.4,1123.5 716.4,1123 717.4,1123.3 718.4,1122.8 719.4,1121.9 720.4,1121.9 721.4,1121.2 722.4,1120.9 723.4,1119.3 724.4,1117.9 725.4,1116.3 726.4,1113.7 727.4,1111.1 728.4,1108.3 729.4,1104.5 729.8,1101.7 730.2,1099.4 730.6,1097.9 731,1095.1 731.4,1092.2 731.8,1089.5 732.2,1087.8 732.6,1084.1 733,1081.6 733.4,1078.1 733.8,1073.5 734.2,1070.3 734.6,1066.1 735,1061.9 735.4,1057.2 735.8,1051.7 736.2,1044.8 736.6,1035.8 737,1026 737.4,1013.5 737.8,997.6 738.2,977.6 738.6,952.5 739,922.3 739.4,886.9 739.8,846.7 740.2,802.8 740.6,756.9 741,710.9 741.4,667.7 741.8,629.9 742.2,600.1 742.6,580.7 743,573.2 743.4,578.1 743.8,595 744.2,622.7 744.6,659 745,701.3 745.4,746.9 745.8,793 746.2,837.5 746.6,878.6 747,915.1 747.4,946.4 747.8,972.6 748.2,993.3 748.6,1009.7 749,1023.7 749.4,1034.1 749.8,1042.5 750.2,1050.5 750.6,1055.5 751,1061.5 751.4,1064.8 751.8,1069.9 752.2,1073.6 752.6,1076.1 753,1080.4 753.4,1083.9 753.8,1086 754.2,1089.3 754.6,1091.6 755,1095 755.4,1097.3 755.8,1098.9 756.2,1101.8 756.6,1103.1 757,1106.1 757.4,1106.9 758.4,1111.7 759.4,1114.2 760.4,1117.4 761.4,1119 762.4,1119.3 763.4,1121.1 764.4,1121.3 765.4,1122.7 766.4,1122.8 767.4,1123.4 768.4,1122.8 769.4,1122.4 770.4,1123 771.4,1123.2 772.4,1122.4 773.4,1122.5 774.4,1122.8 775.4,1123.7 776.4,1122.9 777.4,1123.1 778.4,1122.4 779.4,1123.3 780.4,1122.8 781.4,1122.9 782.4,1123.2 783.4,1123 785.4,1122.8 787.4,1122.4 789.4,1123.1 791.4,1123.3 793.4,1122.3 795.4,1123.7 797.4,1122.5 799.4,1122.8 801.4,1123 803.4,1123.1 805.4,1122.7 807.4,1122.5 809.4,1122.7 811.4,1122.7 813.4,1123.7 815.4,1123.3 817.4,1123.6 819.4,1122.4 821.4,1122.5 823.4,1123.6 825.4,1122.9 827.4,1122.9 829.4,1123.7 831.4,1123.2 833.4,1122.7 835.4,1122.8 837.4,1123.4 839.4,1122.7 841.4,1123.4 843.4,1123 845.4,1123.2 847.4,1122.3 849.4,1122.8 851.4,1118.3 853.4,1118.7 855.4,1119.8 857.4,1117.7 859.4,1118.6 861.4,1118.7 863.4,1120.1 865.4,1120.5 867.4,1119.1 869.4,1118.2 871.4,1118.3 873.4,1119.9 875.4,1120.6 877.4,1119.3 879.4,1118 881.4,1120.5 883.4,1118.5 885.4,1120.5 887.4,1120 889.4,1120.9 891.4,1120.1 893.4,1119.8 895.4,1117.7 897.4,1117.7 899.4,1120.4 901.4,1120 903.4,1117.8 905.4,1120.4 907.4,1120 909.4,1119.6 911.4,1120.7 913.4,1120.2 915.4,1119.7 917.4,1119.8 919.4,1117.7 921.4,1120.2 923.4,1120.4 925.4,1117.9 927.4,1119.5 929.4,1118.2 931.4,1118.9 933.4,1118.4 935.4,1120 937.4,1120.6 939.4,1118.5 941.4,1119.5 943.4,1119.1 945.4,1118.8 947.4,1118.5 949.4,1120.1 951.4,1119.8 953.4,1117.9 955.4,1119.2 957.4,1120.1 959.4,1118.9 961.4,1120.2 963.4,1118.4 965.4,1121 967.4,1118.2 969.4,1119.1 971.4,1119.9 973.4,1117.8 975.4,1120.2 977.4,1120.2 979.4,1120.9 981.4,1119.2 983.4,1118.5 985.4,1118.7 987.4,1119.7 989.4,1118.3 991.4,1120.7 993.4,1120 995.4,1118.8 997.4,1117.7 999.4,1118.9 1001.4,1118.7 1003.4,1118.4 1005.4,1119.7 1007.4,1117.8 1009.4,1118.5 1011.4,1119.9 1013.4,1119.7 1015.4,1118.3 1017.4,1119.9 1019.4,1120.5 1021.4,1118.1 1023.4,1119.2 1025.4,1119.3 1027.4,1118.8 1029.4,1117.9 1031.4,1120.6 1033.4,1119.9 1035.4,1120.9 1037.4,1119.7 1039.4,1119.3 1041.4,1118.1 1043.4,1118.8 1045.4,1119.1 1047.4,1119.7 1049.4,1119.1 1051.4,1120.1 1053.4,1118.1 1055.4,1118.3 1057.4,1118.2 1059.4,1120.6 1061.4,1118.8 1063.4,1118.5 1065.4,1119.3 1067.4,1118 1069.4,1118 1071.4,1118.5 1073.4,1118.2 1075.4,1118.8 1077.4,1118 1079.4,1120.6 1081.4,1118.6 1083.4,1118.6 1085.4,1119 1087.4,1120.1 1089.4,1120.9 1091.4,1119 1093.4,1118.2 1095.4,1120.1 1097.4,1120.4 1099.4,1120.3 1101.4,1120.8 1103.4,1118.7 1105.4,1117.7 1107.4,1118.3 1109.4,1119.8 1111.4,1118.7 1113.4,1120.8 1115.4,1118.2 1117.4,1120 1119.4,1121.1 1121.4,1118.9 1123.4,1120.6 1125.4,1120.1 1127.4,1120.9 1129.4,1119.5 1131.4,1119.2 1133.4,1118.3 1135.4,1121 1137.4,1118.2 1139.4,1120.7 1141.4,1120.3 1143.4,1118.9 1145.4,1119.9 1147.4,1119.9 1149.4,1119.1 1151.4,1120.3 1153.4,1118.3 1155.4,1120.4 1157.4,1118.2 1159.4,1118.3 1161.4,1119.2 1163.4,1121 1165.4,1118.3 1167.4,1120.8 1169.4,1118.7 1171.4,1118.3 1173.4,1118.4 1175.4,1114.3 1176.4,1112.6 1177.4,1111.5 1178.4,1110.1 1179.4,1107.2 1180.4,1103.7 1181.4,1100.8 1182.4,1093.2 1183.4,1086.2 1184.4,1079.8 1185.4,1072.9 1186.4,1070.7 1187.4,1067.2 1188.4,1072.7 1189.4,1076.4 1190.4,1084.4 1191.4,1090.2 1192.4,1095.6 1193.4,1100.5 1194.4,1105.3 1195.4,1108.6 1196.4,1111.5 1197.4,1112.6 1198.4,1114.6 1199.4,1116.2 1201.4,1116.2 1203.4,1118.2 1205.4,1119.1 1207.4,1120.2 1209.4,1118.6 1211.4,1120.4 1213.4,1120.2 1215.4,1119.1 1217.4,1118.6 1219.4,1117.7 1221.4,1118.5 1223.4,1117.8 1225.4,1117.9 1227.4,1118.6 1229.4,1118.6 1231.4,1120.9 1233.4,1120.4 1235.4,1121.1 1237.4,1118.1 1239.4,1118.6 1241.4,1118.9 1243.4,1120.2 1245.4,1119.9 1247.4,1120.5 1249.4,1118.9 1251.4,1117.6 1253.4,1120 1255.4,1120.9 1257.4,1120.5 1259.4,1119.9 1261.4,1118 1263.4,1118.3 1265.4,1119.5 1267.4,1120.7 1269.4,1120.7 1271.4,1120.6 1273.4,1118.4 1275.4,1119.5 1277.4,1117.6 1279.4,1117.9 1281.4,1118.3 1283.4,1119.4 1285.4,1118.2 1287.4,1120.7 1289.4,1120.7 1291.4,1119.1 1293.4,1119.3 1295.4,1120.4 1297.4,1120.2 1299.4,1121 1301.4,1117.9 1303.4,1118.6 1305.4,1117.8 1307.4,1117.7 1309.4,1119.6 1311.4,1118.5 1313.4,1119.8 1315.4,1118.3 1317.4,1118.2 1319.4,1120.6 1321.4,1121.1 1323.4,1120.4 1325.4,1119.1 1327.4,1119.8 1329.4,1121.1 1331.4,1118.2 1333.4,1118.4 1335.4,1119.5 1337.4,1121 1339.4,1118 1341.4,1119.2 1343.4,1120.9 1345.4,1120 1347.4,1118.9 1349.4,1118 1351.4,1119.4 1353.4,1118.9 1355.4,1120.4 1357.4,1120.2 1359.4,1117.9 1361.4,1119.8 1363.4,1120.7 1365.4,1119 1367.4,1120.7 1369.4,1120.4 1371.4,1119.5 1373.4,1119.1 1375.4,1118.9 1377.4,1118.6 1379.4,1119.6 1381.4,1120.9 1383.4,1118.6 1385.4,1120.9 1387.4,1119.5 1389.4,1119.7 1391.4,1118.7 1393.4,1118.6 1395.4,1120.3 1397.4,1118.8 1399.4,1118.7 1401.4,1119.5 1403.4,1120.6 1405.4,1117.9 1407.4,1119 1409.4,1120.9 1411.4,1120.3 1413.4,1117.6 1415.4,1120.3 1417.4,1119.7 1419.4,1118.3 1421.4,1118.2 1423.4,1118.9 1425.4,1118.5 1427.4,1121 1429.4,1120.8 1431.4,1117.7 1433.4,1118.3 1435.4,1121 1437.4,1120.9 1439.4,1120.3 1441.4,1117.8 1443.4,1120.3 1445.4,1118.8 1447.4,1117.8 1449.4,1118.9 1451.4,1117.9 1453.4,1120.2 1455.4,1120.6 1457.4,1121 1459.4,1118.5 1461.4,1120.7 1463.4,1117.7 1465.4,1118.6 1467.4,1120.4 1469.4,1118.3 1471.4,1120.5 1473.4,1119.3 1475.4,1120.7 1477.4,1118.3 1479.4,1118 1481.4,1117.9 1483.4,1121.1 1485.4,1118.1 1487.4,1119.2 1489.4,1118.2 1491.4,1119.3 1493.4,1118.9 1495.4,1119 1497.4,1118.3 1499.4,1120.8 1501.4,1120.9 1503.4,1119.2 1505.4,1120.1 1507.4,1119.7 1509.4,1121.1 1511.4,1118.5 1513.4,1121 1515.4,1118.2 1517.4,1118.3 1519.4,1119.5 1521.4,1120.7 1523.4,1118.8 1525.4,1120.4 1527.4,1119.6 1529.4,1120.7 1531.4,1117.7 1533.4,1119.2 1535.4,1119.9 1537.4,1120.8 1539.4,1118.5 1541.4,1118.1 1543.4,1118.1 1545.4,1120.7 1547.4,1119.8 1549.4,1120 1551.4,1118.3 1553.4,1120.2 1555.4,1118.1 1557.4,1115.9 1559.4,1115.2 1560.4,1116.8 1561.4,1115.4 1562.4,1113.8 1563.4,1110 1564.4,1108 1565.4,1105.3 1566.4,1101.7 1567.4,1097.2 1568.4,1091.5 1569.4,1086.8 1570.4,1082.7 1571.4,1082.5 1572.4,1083.9 1573.4,1087.2 1574.4,1092.3 1575.4,1097.7 1576.4,1104.5 1577.4,1105.8 1578.4,1107.9 1579.4,1111.5 1580.4,1111.6 1581.4,1115.4 1582.4,1113.9 1583.4,1116.6 1585.4,1117 1587.4,1119.4 1589.4,1119.7 1591.4,1119.7 1593.4,1119.9 1595.4,1120.8 1597.4,1119.5 1599.4,1117.7 1601.4,1118.8 1603.4,1117.8 1605.4,1118.4 1607.4,1118.2 1609.4,1117.6 1611.4,1118.5 1613.4,1120.1 1615.4,1120.2 1617.4,1119.7 1619.4,1121 1621.4,1120.3 1623.4,1118 1625.4,1117.9 1627.4,1120 1629.4,1118.4 1631.4,1118.4 1633.4,1118 1635.4,1118.3 1637.4,1119.2 1639.4,1120.7 1641.4,1118.2 1643.4,1120 1645.4,1118.9 1647.4,1119.8 1649.4,1119.2 1651.4,1117.7 1653.4,1120.5 1655.4,1119.2 1657.4,1118.8 1659.4,1119.2 1661.4,1117.8 1663.4,1119.7 1665.4,1117.9 1667.4,1118.7 1669.4,1117.7 1671.4,1120.8 1673.4,1120.4 1675.4,1120.1 1677.4,1117.9 1679.4,1121.1 1681.4,1120.2 1683.4,1118.6 1685.4,1117.6 1687.4,1120.5 1689.4,1119.6 1691.4,1118.7 1693.4,1118.7 1695.4,1118.5 1697.4,1118.5 1699.4,1120.2 1701.4,1120.2 1703.4,1121 1705.4,1118.7 1707.4,1120.4 1709.4,1120.2 1711.4,1117.7 1713.4,1118.9 1715.4,1119 1717.4,1118.8 1719.4,1119 1721.4,1118.7 1723.4,1120 1725.4,1120.9 1727.4,1120.9 1729.4,1121.1 1731.4,1119.8 1733.4,1120.6 1735.4,1120.7 1737.4,1119.4 1739.4,1117.7 1741.4,1118.7 1743.4,1120.1 1745,1118.4 L1745,1124.1 Z" fill="#ff0000" stroke="#ff0000" stroke-width="2" stroke-linejoin="round"/>
<linearGradient id="sg0" gradientUnits="userSpaceOnUse" x1="0" y1="573.1" x2="0" y2="821.1"><stop offset="0" stop-color="#efa0a8" stop-opacity="0.9"/><stop offset="0.35" stop-color="#ec6f7c"/><stop offset="1" stop-color="#ff1a1a"/></linearGradient>
<line x1="743" y1="574.1" x2="743" y2="821.1" stroke="url(#sg0)" stroke-width="3.2"/>
<line x1="423.4" y1="1124.6" x2="1745" y2="1124.6" stroke="#cc6f78" stroke-width="3.6"/>
<g stroke-linecap="round" stroke-linejoin="round" fill="none">
<polyline points="293,1257 293,558.2 956.1,61.8 1990.3,61.8 1990.3,581" stroke="#111" stroke-width="6.4"/>
<polyline points="293,1257 1685,1257 1990.3,581" stroke="#111" stroke-width="6.6"/>
</g>
<g stroke="#111" stroke-width="5">
<line x1="293" y1="1257" x2="319" y2="1257" stroke="#111" stroke-width="5"/>
<line x1="293" y1="1203.3" x2="307" y2="1203.3" stroke="#111" stroke-width="5"/>
<line x1="293" y1="1149.5" x2="319" y2="1149.5" stroke="#111" stroke-width="5"/>
<line x1="293" y1="1095.8" x2="307" y2="1095.8" stroke="#111" stroke-width="5"/>
<line x1="293" y1="1042" x2="319" y2="1042" stroke="#111" stroke-width="5"/>
<line x1="293" y1="988.3" x2="307" y2="988.3" stroke="#111" stroke-width="5"/>
<line x1="293" y1="934.5" x2="319" y2="934.5" stroke="#111" stroke-width="5"/>
<line x1="293" y1="880.8" x2="307" y2="880.8" stroke="#111" stroke-width="5"/>
<line x1="293" y1="827" x2="319" y2="827" stroke="#111" stroke-width="5"/>
<line x1="293" y1="773.3" x2="307" y2="773.3" stroke="#111" stroke-width="5"/>
<line x1="293" y1="719.5" x2="319" y2="719.5" stroke="#111" stroke-width="5"/>
<line x1="293" y1="665.8" x2="307" y2="665.8" stroke="#111" stroke-width="5"/>
<line x1="293" y1="612" x2="319" y2="612" stroke="#111" stroke-width="5"/>
<line x1="293" y1="558.2" x2="307" y2="558.2" stroke="#111" stroke-width="5"/>
<line x1="409" y1="1257" x2="409" y2="1244" stroke="#111" stroke-width="5"/>
<line x1="525" y1="1257" x2="525" y2="1231" stroke="#111" stroke-width="5"/>
<line x1="641" y1="1257" x2="641" y2="1244" stroke="#111" stroke-width="5"/>
<line x1="757" y1="1257" x2="757" y2="1231" stroke="#111" stroke-width="5"/>
<line x1="873" y1="1257" x2="873" y2="1244" stroke="#111" stroke-width="5"/>
<line x1="989" y1="1257" x2="989" y2="1231" stroke="#111" stroke-width="5"/>
<line x1="1105" y1="1257" x2="1105" y2="1244" stroke="#111" stroke-width="5"/>
<line x1="1221" y1="1257" x2="1221" y2="1231" stroke="#111" stroke-width="5"/>
<line x1="1337" y1="1257" x2="1337" y2="1244" stroke="#111" stroke-width="5"/>
<line x1="1453" y1="1257" x2="1453" y2="1231" stroke="#111" stroke-width="5"/>
<line x1="1569" y1="1257" x2="1569" y2="1244" stroke="#111" stroke-width="5"/>
<line x1="1685" y1="1257" x2="1685" y2="1231" stroke="#111" stroke-width="5"/>
<line x1="1685" y1="1257" x2="1710" y2="1257" stroke="#111" stroke-width="4.2"/>
<line x1="1745" y1="1124.1" x2="1768.8" y2="1124.1" stroke="#111" stroke-width="4.2"/>
<line x1="1799.3" y1="1004" x2="1821.9" y2="1004" stroke="#111" stroke-width="4.2"/>
<line x1="1848.5" y1="894.9" x2="1870.1" y2="894.9" stroke="#111" stroke-width="4.2"/>
<line x1="1893.5" y1="795.4" x2="1914.1" y2="795.4" stroke="#111" stroke-width="4.2"/>
<line x1="1934.7" y1="704.2" x2="1954.4" y2="704.2" stroke="#111" stroke-width="4.2"/>
<line x1="1972.5" y1="620.4" x2="1991.5" y2="620.4" stroke="#111" stroke-width="4.2"/>
</g>
<g fill="#1a2220" stroke="#1a2220" stroke-linecap="round">
<line x1="693.5" y1="548" x2="728" y2="573.7" stroke="#1a2220" stroke-width="3.8"/>
<polygon points="733.6,577.9 720.1,572.6 724.6,571.2 724.6,566.5" stroke="none"/>
<line x1="803.5" y1="464.4" x2="826.8" y2="484" stroke="#1a2220" stroke-width="3.8"/>
<polygon points="832.2,488.5 819,482.4 823.6,481.3 823.9,476.6" stroke="none"/>
<line x1="889.5" y1="362.4" x2="923.8" y2="385.9" stroke="#1a2220" stroke-width="3.8"/>
<polygon points="929.6,389.9 915.9,385.1 920.4,383.6 920.2,378.8" stroke="none"/>
<line x1="972" y1="261.6" x2="1010.8" y2="289.1" stroke="#1a2220" stroke-width="3.8"/>
<polygon points="1016.5,293.1 1002.9,288.1 1007.4,286.6 1007.3,281.9" stroke="none"/>
<line x1="1059.5" y1="179.2" x2="1095.7" y2="221.9" stroke="#1a2220" stroke-width="3.8"/>
<polygon points="1100.2,227.2 1088.2,219 1093,218.7 1094,214.1" stroke="none"/>
<line x1="1245.7" y1="141" x2="1196.7" y2="180.5" stroke="#1a2220" stroke-width="3.8"/>
<polygon points="1191.2,184.9 1199.7,173.2 1199.9,177.9 1204.5,179.1" stroke="none"/>
<line x1="1251.7" y1="545.8" x2="1193.5" y2="559.5" stroke="#1a2220" stroke-width="3.8"/>
<polygon points="1186.7,561.1 1199.5,554.2 1197.6,558.5 1201.2,561.6" stroke="none"/>
<line x1="1191.7" y1="656.8" x2="1131.6" y2="669.6" stroke="#1a2220" stroke-width="3.8"/>
<polygon points="1124.8,671.1 1137.7,664.5 1135.8,668.8 1139.3,671.9" stroke="none"/>
<line x1="1107" y1="755.2" x2="1050.4" y2="767.1" stroke="#1a2220" stroke-width="3.8"/>
<polygon points="1043.5,768.5 1056.4,761.9 1054.5,766.2 1058,769.3" stroke="none"/>
<line x1="1016.4" y1="843.9" x2="960" y2="855.6" stroke="#1a2220" stroke-width="3.8"/>
<polygon points="953.1,857 966,850.4 964.1,854.7 967.6,857.9" stroke="none"/>
<line x1="929.9" y1="941.1" x2="873.7" y2="954.7" stroke="#1a2220" stroke-width="3.8"/>
<polygon points="866.9,956.4 879.6,949.4 877.8,953.8 881.4,956.8" stroke="none"/>
<line x1="818.9" y1="1051.6" x2="762.8" y2="1064" stroke="#1a2220" stroke-width="3.8"/>
<polygon points="756,1065.5 768.9,1058.8 766.9,1063.1 770.5,1066.2" stroke="none"/>
<line x1="1604.8" y1="563.5" x2="1554" y2="594.9" stroke="#1a2220" stroke-width="3.8"/>
<polygon points="1548,598.6 1557.9,588 1557.5,592.7 1561.9,594.5" stroke="none"/>
<line x1="1546.3" y1="658.7" x2="1500.6" y2="683.8" stroke="#1a2220" stroke-width="3.8"/>
<polygon points="1494.5,687.2 1504.9,677.1 1504.3,681.8 1508.6,683.8" stroke="none"/>
<line x1="1489.8" y1="743.5" x2="1439" y2="774.9" stroke="#1a2220" stroke-width="3.8"/>
<polygon points="1433,778.6 1442.9,768 1442.5,772.7 1446.9,774.5" stroke="none"/>
<line x1="1415.2" y1="853.4" x2="1362" y2="874.7" stroke="#1a2220" stroke-width="3.8"/>
<polygon points="1355.5,877.3 1367.1,868.6 1365.9,873.1 1369.9,875.6" stroke="none"/>
<line x1="1352" y1="946.9" x2="1291.3" y2="981.6" stroke="#1a2220" stroke-width="3.8"/>
<polygon points="1285.2,985.1 1295.5,974.9 1294.9,979.5 1299.2,981.4" stroke="none"/>
<line x1="1280.2" y1="1060.1" x2="1211.9" y2="1088.2" stroke="#1a2220" stroke-width="3.8"/>
<polygon points="1205.4,1090.9 1216.9,1082.1 1215.8,1086.6 1219.8,1089.1" stroke="none"/>
</g>
<text x="490.9" y="563" style="font-family:'Liberation Serif','Times New Roman',serif;font-size:57px" text-anchor="start" fill="#1c1c1c">5109 a.u.</text>
<text x="603.2" y="472.4" style="font-family:'Liberation Serif','Times New Roman',serif;font-size:57px" text-anchor="start" fill="#1c1c1c">5438 a.u.</text>
<text x="691.5" y="371.6" style="font-family:'Liberation Serif','Times New Roman',serif;font-size:57px" text-anchor="start" fill="#1c1c1c">5508 a.u.</text>
<text x="759.5" y="268" style="font-family:'Liberation Serif','Times New Roman',serif;font-size:57px" text-anchor="start" fill="#1c1c1c">5656 a.u.</text>
<text x="964.8" y="164.6" style="font-family:'Liberation Serif','Times New Roman',serif;font-size:57px" text-anchor="start" fill="#1c1c1c">5526 a.u.</text>
<text x="1177.9" y="133.4" style="font-family:'Liberation Serif','Times New Roman',serif;font-size:57px" text-anchor="start" fill="#1c1c1c">5250 a.u.</text>
<text x="1611.2" y="570.2" style="font-family:'Liberation Serif','Times New Roman',serif;font-size:57px" text-anchor="start" fill="#1c1c1c">407 a.u.</text>
<text x="1549.3" y="672.1" style="font-family:'Liberation Serif','Times New Roman',serif;font-size:57px" text-anchor="start" fill="#1c1c1c">332 a.u.</text>
<text x="1496.2" y="753.5" style="font-family:'Liberation Serif','Times New Roman',serif;font-size:57px" text-anchor="start" fill="#1c1c1c">222 a.u.</text>
<text x="1422.6" y="857.1" style="font-family:'Liberation Serif','Times New Roman',serif;font-size:57px" text-anchor="start" fill="#1c1c1c">307 a.u.</text>
<text x="1363.4" y="952.6" style="font-family:'Liberation Serif','Times New Roman',serif;font-size:57px" text-anchor="start" fill="#1c1c1c">385 a.u.</text>
<text x="1292.7" y="1069.1" style="font-family:'Liberation Serif','Times New Roman',serif;font-size:57px" text-anchor="start" fill="#1c1c1c">557 a.u.</text>
<text x="1263.2" y="550.6" style="font-family:'Liberation Serif','Times New Roman',serif;font-size:56.5px" fill="#1c1c1c">&#946;<tspan dy="11.4">hkl</tspan><tspan dy="-11.4">=0.2406</tspan></text>
<text x="1199.3" y="667.3" style="font-family:'Liberation Serif','Times New Roman',serif;font-size:56.5px" fill="#1c1c1c">&#946;<tspan dy="10.5">hkl</tspan><tspan dy="-10.5">=0.2621</tspan></text>
<text x="1117" y="753.5" style="font-family:'Liberation Serif','Times New Roman',serif;font-size:56.5px" fill="#1c1c1c">&#946;<tspan dy="11.7">hkl</tspan><tspan dy="-11.7">=0.2820</tspan></text>
<text x="1030" y="848.8" style="font-family:'Liberation Serif','Times New Roman',serif;font-size:56.5px" fill="#1c1c1c">&#946;<tspan dy="10">hkl</tspan><tspan dy="-10">=0.2704</tspan></text>
<text x="941.4" y="948.8" style="font-family:'Liberation Serif','Times New Roman',serif;font-size:56.5px" fill="#1c1c1c">&#946;<tspan dy="9.5">hkl</tspan><tspan dy="-9.5">=0.2482</tspan></text>
<text x="830.6" y="1059.6" style="font-family:'Liberation Serif','Times New Roman',serif;font-size:56.5px" fill="#1c1c1c">&#946;<tspan dy="9.5">hkl</tspan><tspan dy="-9.5">=0.2312</tspan></text>
<text x="264.5" y="1280.5" style="font-family:'Liberation Serif','Times New Roman',serif;font-size:69px" text-anchor="end" fill="#1c1c1c">0</text>
<text x="264.5" y="1173" style="font-family:'Liberation Serif','Times New Roman',serif;font-size:69px" text-anchor="end" fill="#1c1c1c">1000</text>
<text x="264.5" y="1065.5" style="font-family:'Liberation Serif','Times New Roman',serif;font-size:69px" text-anchor="end" fill="#1c1c1c">2000</text>
<text x="264.5" y="958" style="font-family:'Liberation Serif','Times New Roman',serif;font-size:69px" text-anchor="end" fill="#1c1c1c">3000</text>
<text x="264.5" y="850.5" style="font-family:'Liberation Serif','Times New Roman',serif;font-size:69px" text-anchor="end" fill="#1c1c1c">4000</text>
<text x="264.5" y="743" style="font-family:'Liberation Serif','Times New Roman',serif;font-size:69px" text-anchor="end" fill="#1c1c1c">5000</text>
<text x="264.5" y="635.5" style="font-family:'Liberation Serif','Times New Roman',serif;font-size:69px" text-anchor="end" fill="#1c1c1c">6000</text>
<text x="292" y="1347.5" style="font-family:'Liberation Serif','Times New Roman',serif;font-size:69px" text-anchor="middle" fill="#1c1c1c">30</text>
<text x="524" y="1347.5" style="font-family:'Liberation Serif','Times New Roman',serif;font-size:69px" text-anchor="middle" fill="#1c1c1c">40</text>
<text x="756" y="1347.5" style="font-family:'Liberation Serif','Times New Roman',serif;font-size:69px" text-anchor="middle" fill="#1c1c1c">50</text>
<text x="988" y="1347.5" style="font-family:'Liberation Serif','Times New Roman',serif;font-size:69px" text-anchor="middle" fill="#1c1c1c">60</text>
<text x="1220" y="1347.5" style="font-family:'Liberation Serif','Times New Roman',serif;font-size:69px" text-anchor="middle" fill="#1c1c1c">70</text>
<text x="1452" y="1347.5" style="font-family:'Liberation Serif','Times New Roman',serif;font-size:69px" text-anchor="middle" fill="#1c1c1c">80</text>
<text x="1684" y="1347.5" style="font-family:'Liberation Serif','Times New Roman',serif;font-size:69px" text-anchor="middle" fill="#1c1c1c">90</text>
<text transform="translate(95.8,906) rotate(-90)" x="0" y="0" text-anchor="middle" style="font-family:'Liberation Serif','Times New Roman',serif;font-size:81.5px" fill="#1c1c1c">Intensity (a.u.)</text>
<text x="816.7" y="1440.5" style="font-family:'Liberation Serif','Times New Roman',serif;font-size:80px" text-anchor="start" fill="#1c1c1c">2 Theta (&#176;)</text>
<text x="591.7" y="1201.4" style="font-family:'Liberation Serif','Times New Roman',serif;font-size:68px" text-anchor="start" fill="#1c1c1c">M(110)</text>
<text x="1058" y="1201.4" style="font-family:'Liberation Serif','Times New Roman',serif;font-size:68px" text-anchor="start" fill="#1c1c1c">A(200)</text>
<text x="1439.2" y="1201.4" style="font-family:'Liberation Serif','Times New Roman',serif;font-size:68px" text-anchor="start" fill="#1c1c1c">M(211)</text>
<text x="1781.8" y="1145.3" style="font-family:'Liberation Serif','Times New Roman',serif;font-size:64.2px" text-anchor="start" fill="#1c1c1c">T0</text>
<text x="1834.9" y="1024.2" style="font-family:'Liberation Serif','Times New Roman',serif;font-size:61.1px" text-anchor="start" fill="#1c1c1c">T1</text>
<text x="1883.1" y="914.2" style="font-family:'Liberation Serif','Times New Roman',serif;font-size:58.3px" text-anchor="start" fill="#1c1c1c">T2</text>
<text x="1927.1" y="813.8" style="font-family:'Liberation Serif','Times New Roman',serif;font-size:55.7px" text-anchor="start" fill="#1c1c1c">T3</text>
<text x="1967.4" y="721.9" style="font-family:'Liberation Serif','Times New Roman',serif;font-size:53.4px" text-anchor="start" fill="#1c1c1c">T4</text>
<text x="2004.5" y="637.4" style="font-family:'Liberation Serif','Times New Roman',serif;font-size:51.2px" text-anchor="start" fill="#1c1c1c">T5</text>
<text transform="translate(2036,872) rotate(-65.5)" x="0" y="0" text-anchor="middle" style="font-family:'Liberation Sans',Arial,sans-serif;font-size:46px" fill="#1c1c1c">Groups</text>
</svg>
</body></html>
